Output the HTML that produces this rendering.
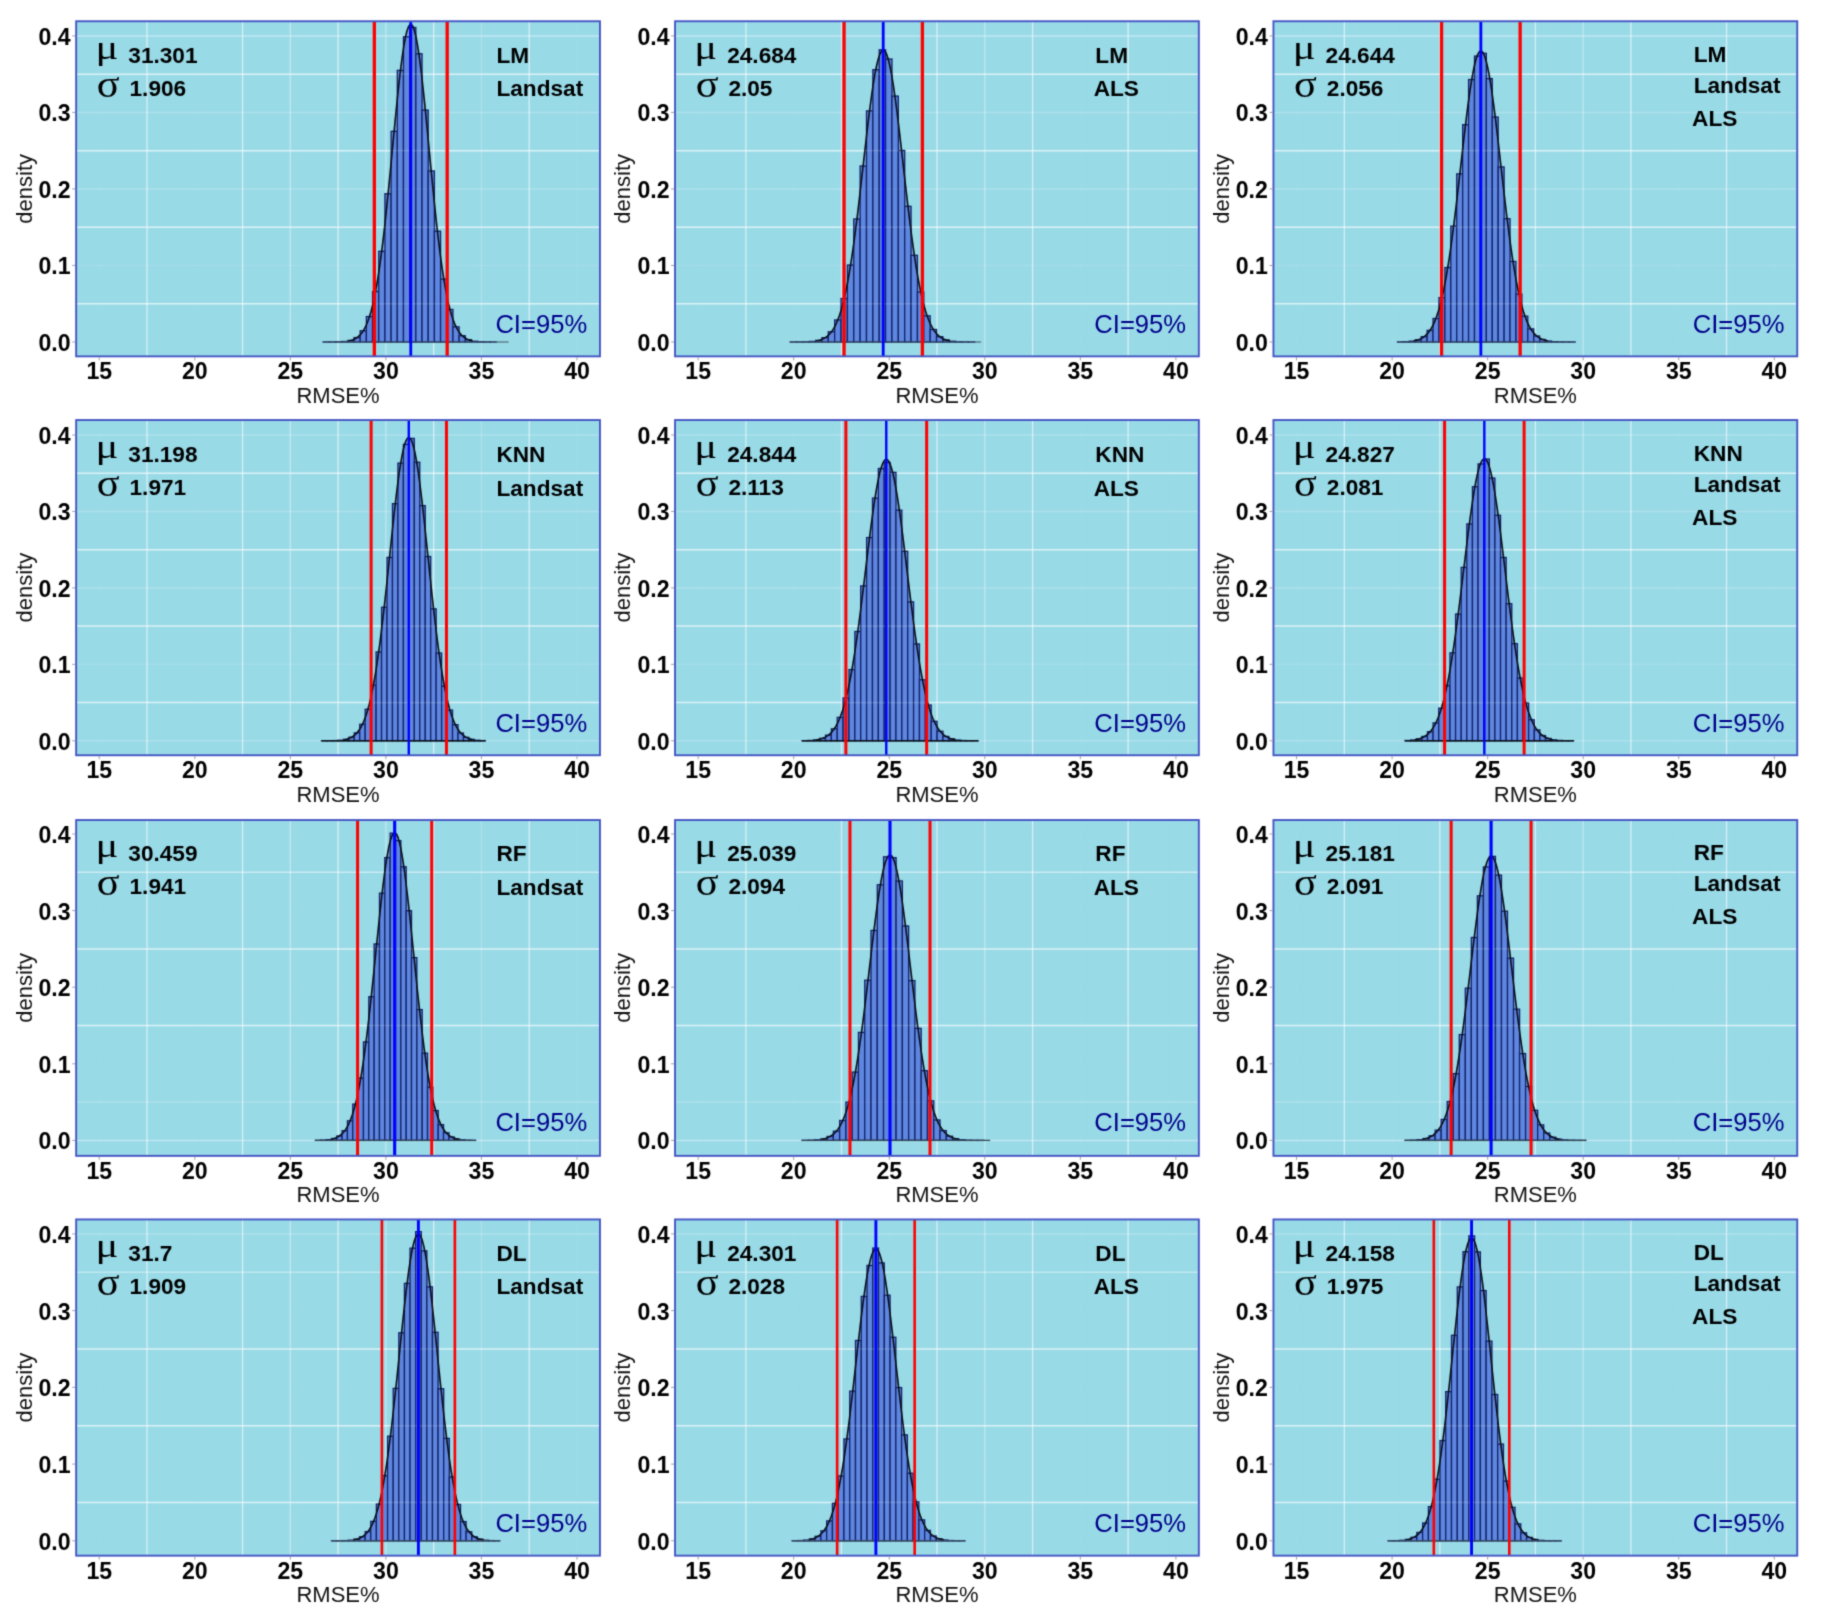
<!DOCTYPE html>
<html lang="en">
<head>
<meta charset="utf-8">
<title>RMSE% bootstrap distributions</title>
<style>
html,body{margin:0;padding:0;background:#fff;}
body{width:1822px;height:1615px;overflow:hidden;}
svg{display:block;}
</style>
</head>
<body>
<svg width="1822" height="1615" viewBox="0 0 1822 1615">
<defs><filter id="soft" filterUnits="userSpaceOnUse" x="0" y="0" width="1822" height="1615" color-interpolation-filters="sRGB"><feConvolveMatrix order="3" kernelMatrix="0.03 0.1 0.03 0.1 0.48 0.1 0.03 0.1 0.03" divisor="1" edgeMode="duplicate" preserveAlpha="true"/></filter></defs>
<g filter="url(#soft)">
<rect width="1822" height="1615" fill="#fff"/>
<g><rect x="76.15" y="21.25" width="523.8" height="335.1" fill="#99dae7"/><g stroke="#ffffff" stroke-width="1.3"><line x1="99.25" x2="99.25" y1="21.25" y2="356.35" stroke-opacity="0.03"/><line x1="147.03" x2="147.03" y1="21.25" y2="356.35" stroke-opacity="0.6"/><line x1="194.8" x2="194.8" y1="21.25" y2="356.35" stroke-opacity="0.03"/><line x1="242.57" x2="242.57" y1="21.25" y2="356.35" stroke-opacity="0.6"/><line x1="290.35" x2="290.35" y1="21.25" y2="356.35" stroke-opacity="0.38"/><line x1="338.12" x2="338.12" y1="21.25" y2="356.35" stroke-opacity="0.6"/><line x1="385.9" x2="385.9" y1="21.25" y2="356.35" stroke-opacity="0.38"/><line x1="433.68" x2="433.68" y1="21.25" y2="356.35" stroke-opacity="0.6"/><line x1="481.45" x2="481.45" y1="21.25" y2="356.35" stroke-opacity="0.2"/><line x1="529.22" x2="529.22" y1="21.25" y2="356.35" stroke-opacity="0.6"/><line x1="577" x2="577" y1="21.25" y2="356.35" stroke-opacity="0.03"/></g><g stroke="#ffffff" stroke-width="1.5"><line x1="76.15" x2="599.95" y1="342" y2="342" stroke-opacity="0.02"/><line x1="76.15" x2="599.95" y1="303.74" y2="303.74" stroke-opacity="0.64"/><line x1="76.15" x2="599.95" y1="265.48" y2="265.48" stroke-opacity="0.1"/><line x1="76.15" x2="599.95" y1="227.21" y2="227.21" stroke-opacity="0.64"/><line x1="76.15" x2="599.95" y1="188.95" y2="188.95" stroke-opacity="0.2"/><line x1="76.15" x2="599.95" y1="150.69" y2="150.69" stroke-opacity="0.64"/><line x1="76.15" x2="599.95" y1="112.42" y2="112.42" stroke-opacity="0.2"/><line x1="76.15" x2="599.95" y1="74.16" y2="74.16" stroke-opacity="0.64"/><line x1="76.15" x2="599.95" y1="35.9" y2="35.9" stroke-opacity="0.38"/></g><path id="dp00" d="M326.19,342 L326.19,341.99 327.69,341.99 329.18,341.98 330.67,341.98 332.17,341.97 333.66,341.95 335.16,341.93 336.65,341.91 338.15,341.87 339.64,341.82 341.13,341.76 342.63,341.67 344.12,341.56 345.62,341.41 347.11,341.22 348.61,340.97 350.1,340.64 351.59,340.23 353.09,339.71 354.58,339.05 356.08,338.23 357.57,337.21 359.07,335.96 360.56,334.43 362.06,332.57 363.55,330.34 365.04,327.68 366.54,324.52 368.03,320.8 369.53,316.47 371.02,311.45 372.52,305.69 374.01,299.13 375.5,291.71 377,283.4 378.49,274.17 379.99,264 381.48,252.89 382.98,240.88 384.47,228.01 385.96,214.35 387.46,199.99 388.95,185.06 390.45,169.71 391.94,154.1 393.44,138.44 394.93,122.92 396.42,107.77 397.92,93.23 399.41,79.53 400.91,66.9 402.4,55.57 403.9,45.75 405.39,37.6 406.88,31.3 408.38,26.96 409.87,24.67 411.37,24.47 412.86,26.36 414.36,30.32 415.85,36.26 417.34,44.06 418.84,53.58 420.33,64.64 421.83,77.04 423.32,90.55 424.82,104.95 426.31,120 427.8,135.46 429.3,151.12 430.79,166.76 432.29,182.17 433.78,197.19 435.28,211.67 436.77,225.47 438.26,238.5 439.76,250.68 441.25,261.96 442.75,272.3 444.24,281.71 445.74,290.2 447.23,297.78 448.72,304.5 450.22,310.42 451.71,315.57 453.21,320.03 454.7,323.86 456.2,327.12 457.69,329.87 459.18,332.18 460.68,334.1 462.17,335.69 463.67,336.99 465.16,338.05 466.66,338.91 468.15,339.59 469.65,340.14 471.14,340.57 472.63,340.91 474.13,341.18 475.62,341.38 477.12,341.54 478.61,341.66 480.11,341.75 481.6,341.81 483.09,341.86 484.59,341.9 486.08,341.93 487.58,341.95 489.07,341.96 490.57,341.97 492.06,341.98 493.55,341.99 495.05,341.99 496.54,341.99 498.04,342 499.53,342 501.03,342 502.52,342 504.01,342 505.51,342 L505.51,342 Z" fill="#5f87e0" fill-opacity="0.6" stroke="none"/><g fill="#5f87e0" stroke="#112268" stroke-width="1.3"><rect x="323.1" y="341.99" width="6.18" height="0.01"/><rect x="329.28" y="341.96" width="6.18" height="0.04"/><rect x="335.47" y="341.86" width="6.18" height="0.14"/><rect x="341.65" y="341.51" width="6.18" height="0.49"/><rect x="347.83" y="340.43" width="6.18" height="1.57"/><rect x="354.02" y="337.57" width="6.18" height="4.43"/><rect x="360.2" y="330.75" width="6.18" height="11.25"/><rect x="366.38" y="316.55" width="6.18" height="25.45"/><rect x="372.57" y="291.5" width="6.18" height="50.5"/><rect x="378.75" y="251.31" width="6.18" height="90.69"/><rect x="384.93" y="193.74" width="6.18" height="148.26"/><rect x="391.12" y="131.32" width="6.18" height="210.68"/><rect x="397.3" y="70.37" width="6.18" height="271.63"/><rect x="403.48" y="36.76" width="6.18" height="305.24"/><rect x="409.67" y="27.49" width="6.18" height="314.51"/><rect x="415.85" y="53.76" width="6.18" height="288.24"/><rect x="422.03" y="110.12" width="6.18" height="231.88"/><rect x="428.22" y="170.95" width="6.18" height="171.05"/><rect x="434.4" y="231.22" width="6.18" height="110.78"/><rect x="440.58" y="279.1" width="6.18" height="62.9"/><rect x="446.77" y="309.5" width="6.18" height="32.5"/><rect x="452.95" y="326.83" width="6.18" height="15.17"/><rect x="459.13" y="335.7" width="6.18" height="6.3"/><rect x="465.32" y="339.71" width="6.18" height="2.29"/><rect x="471.5" y="341.25" width="6.18" height="0.75"/><rect x="477.68" y="341.78" width="6.18" height="0.22"/><rect x="483.87" y="341.94" width="6.18" height="0.06"/><rect x="490.05" y="341.99" width="6.18" height="0.01"/><rect x="496.23" y="342" width="6.18" height="0"/><rect x="502.42" y="342" width="6.18" height="0"/></g><path d="M348.61,340.97 350.1,340.64 351.59,340.23 353.09,339.71 354.58,339.05 356.08,338.23 357.57,337.21 359.07,335.96 360.56,334.43 362.06,332.57 363.55,330.34 365.04,327.68 366.54,324.52 368.03,320.8 369.53,316.47 371.02,311.45 372.52,305.69 374.01,299.13 375.5,291.71 377,283.4 378.49,274.17 379.99,264 381.48,252.89 382.98,240.88 384.47,228.01 385.96,214.35 387.46,199.99 388.95,185.06 390.45,169.71 391.94,154.1 393.44,138.44 394.93,122.92 396.42,107.77 397.92,93.23 399.41,79.53 400.91,66.9 402.4,55.57 403.9,45.75 405.39,37.6 406.88,31.3 408.38,26.96 409.87,24.67 411.37,24.47 412.86,26.36 414.36,30.32 415.85,36.26 417.34,44.06 418.84,53.58 420.33,64.64 421.83,77.04 423.32,90.55 424.82,104.95 426.31,120 427.8,135.46 429.3,151.12 430.79,166.76 432.29,182.17 433.78,197.19 435.28,211.67 436.77,225.47 438.26,238.5 439.76,250.68 441.25,261.96 442.75,272.3 444.24,281.71 445.74,290.2 447.23,297.78 448.72,304.5 450.22,310.42 451.71,315.57 453.21,320.03 454.7,323.86 456.2,327.12 457.69,329.87 459.18,332.18 460.68,334.1 462.17,335.69 463.67,336.99 465.16,338.05 466.66,338.91 468.15,339.59 469.65,340.14 471.14,340.57 472.63,340.91" fill="none" stroke="#0a0f16" stroke-width="1.6" stroke-linejoin="round"/><g stroke="#fff" stroke-width="1.65" clip-path="url(#cp00)"><line x1="323.1" x2="508.6" y1="303.74" y2="303.74" stroke-opacity="0.14"/><line x1="323.1" x2="508.6" y1="227.21" y2="227.21" stroke-opacity="0.14"/><line x1="323.1" x2="508.6" y1="188.95" y2="188.95" stroke-opacity="0.04"/><line x1="323.1" x2="508.6" y1="150.69" y2="150.69" stroke-opacity="0.14"/><line x1="323.1" x2="508.6" y1="112.42" y2="112.42" stroke-opacity="0.04"/><line x1="323.1" x2="508.6" y1="74.16" y2="74.16" stroke-opacity="0.14"/><line x1="323.1" x2="508.6" y1="35.9" y2="35.9" stroke-opacity="0.08"/></g><clipPath id="cp00"><use href="#dp00"/></clipPath><line x1="323.1" x2="508.6" y1="342" y2="342" stroke="#3f5560" stroke-width="1.2"/><line x1="374.34" x2="374.34" y1="21.25" y2="356.35" stroke="#ff0000" stroke-width="3.3"/><line x1="447.19" x2="447.19" y1="21.25" y2="356.35" stroke="#ff0000" stroke-width="3.3"/><line x1="410.76" x2="410.76" y1="21.25" y2="356.35" stroke="#0000ff" stroke-width="2.8"/><rect x="76.15" y="21.25" width="523.8" height="335.1" fill="none" stroke="#4455c3" stroke-width="1.9"/><g stroke="#8f8f8f" stroke-width="0.85"><line x1="72.2" x2="75.2" y1="342" y2="342"/><line x1="72.2" x2="75.2" y1="265.48" y2="265.48"/><line x1="72.2" x2="75.2" y1="188.95" y2="188.95"/><line x1="72.2" x2="75.2" y1="112.42" y2="112.42"/><line x1="72.2" x2="75.2" y1="35.9" y2="35.9"/><line x1="99.25" x2="99.25" y1="357.3" y2="360.3"/><line x1="194.8" x2="194.8" y1="357.3" y2="360.3"/><line x1="290.35" x2="290.35" y1="357.3" y2="360.3"/><line x1="385.9" x2="385.9" y1="357.3" y2="360.3"/><line x1="481.45" x2="481.45" y1="357.3" y2="360.3"/><line x1="577" x2="577" y1="357.3" y2="360.3"/></g><g font-family="'Liberation Sans', Arial, Helvetica, sans-serif" font-weight="bold" font-size="23.1" fill="#000"><text x="70.6" y="350.9" text-anchor="end">0.0</text><text x="70.6" y="274.38" text-anchor="end">0.1</text><text x="70.6" y="197.85" text-anchor="end">0.2</text><text x="70.6" y="121.32" text-anchor="end">0.3</text><text x="70.6" y="44.8" text-anchor="end">0.4</text><text x="99.25" y="379.4" text-anchor="middle">15</text><text x="194.8" y="379.4" text-anchor="middle">20</text><text x="290.35" y="379.4" text-anchor="middle">25</text><text x="385.9" y="379.4" text-anchor="middle">30</text><text x="481.45" y="379.4" text-anchor="middle">35</text><text x="577" y="379.4" text-anchor="middle">40</text></g><text x="338.05" y="402.8" text-anchor="middle" font-family="'Liberation Sans', Arial, Helvetica, sans-serif" font-size="22" fill="#111">RMSE%</text><text transform="translate(32.3 188.8) rotate(-90)" text-anchor="middle" font-family="'Liberation Sans', Arial, Helvetica, sans-serif" font-size="22" fill="#111">density</text><text transform="translate(95.4 59.2) scale(1.27 1)" font-family="'Liberation Serif', 'DejaVu Serif', serif" font-size="33.5" fill="#000">μ</text><text transform="translate(96.8 97.3) scale(1.1 1)" font-family="'Liberation Serif', 'DejaVu Serif', serif" font-size="38.5" fill="#000">σ</text><g font-family="'Liberation Sans', Arial, Helvetica, sans-serif" font-weight="bold" font-size="22.65" fill="#000"><text x="128.3" y="62.7">31.301</text><text x="129.5" y="96.3">1.906</text><text x="496.4" y="62.5">LM</text><text x="496.4" y="96.4">Landsat</text></g><text x="495.4" y="332.9" font-family="'Liberation Sans', Arial, Helvetica, sans-serif" font-size="25.6" fill="#00008b">CI=95%</text></g>
<g><rect x="675.05" y="21.25" width="523.8" height="335.1" fill="#99dae7"/><g stroke="#ffffff" stroke-width="1.3"><line x1="698.15" x2="698.15" y1="21.25" y2="356.35" stroke-opacity="0.03"/><line x1="745.92" x2="745.92" y1="21.25" y2="356.35" stroke-opacity="0.6"/><line x1="793.7" x2="793.7" y1="21.25" y2="356.35" stroke-opacity="0.03"/><line x1="841.47" x2="841.47" y1="21.25" y2="356.35" stroke-opacity="0.6"/><line x1="889.25" x2="889.25" y1="21.25" y2="356.35" stroke-opacity="0.03"/><line x1="937.02" x2="937.02" y1="21.25" y2="356.35" stroke-opacity="0.6"/><line x1="984.8" x2="984.8" y1="21.25" y2="356.35" stroke-opacity="0.38"/><line x1="1032.58" x2="1032.58" y1="21.25" y2="356.35" stroke-opacity="0.6"/><line x1="1080.35" x2="1080.35" y1="21.25" y2="356.35" stroke-opacity="0.03"/><line x1="1128.12" x2="1128.12" y1="21.25" y2="356.35" stroke-opacity="0.6"/><line x1="1175.9" x2="1175.9" y1="21.25" y2="356.35" stroke-opacity="0.03"/></g><g stroke="#ffffff" stroke-width="1.5"><line x1="675.05" x2="1198.85" y1="342" y2="342" stroke-opacity="0.02"/><line x1="675.05" x2="1198.85" y1="303.74" y2="303.74" stroke-opacity="0.64"/><line x1="675.05" x2="1198.85" y1="265.48" y2="265.48" stroke-opacity="0.1"/><line x1="675.05" x2="1198.85" y1="227.21" y2="227.21" stroke-opacity="0.64"/><line x1="675.05" x2="1198.85" y1="188.95" y2="188.95" stroke-opacity="0.2"/><line x1="675.05" x2="1198.85" y1="150.69" y2="150.69" stroke-opacity="0.64"/><line x1="675.05" x2="1198.85" y1="112.42" y2="112.42" stroke-opacity="0.2"/><line x1="675.05" x2="1198.85" y1="74.16" y2="74.16" stroke-opacity="0.64"/><line x1="675.05" x2="1198.85" y1="35.9" y2="35.9" stroke-opacity="0.38"/></g><path id="dp01" d="M793.28,342 L793.28,341.99 794.82,341.98 796.36,341.98 797.9,341.97 799.44,341.96 800.98,341.94 802.51,341.92 804.05,341.89 805.59,341.84 807.13,341.79 808.67,341.72 810.21,341.63 811.75,341.51 813.29,341.36 814.82,341.16 816.36,340.91 817.9,340.6 819.44,340.2 820.98,339.71 822.52,339.1 824.06,338.34 825.59,337.42 827.13,336.3 828.67,334.95 830.21,333.32 831.75,331.39 833.29,329.1 834.83,326.42 836.36,323.28 837.9,319.64 839.44,315.46 840.98,310.68 842.52,305.26 844.06,299.15 845.6,292.32 847.13,284.75 848.67,276.41 850.21,267.3 851.75,257.43 853.29,246.82 854.83,235.51 856.37,223.56 857.9,211.04 859.44,198.07 860.98,184.73 862.52,171.18 864.06,157.56 865.6,144.03 867.14,130.76 868.68,117.94 870.21,105.74 871.75,94.35 873.29,83.94 874.83,74.68 876.37,66.73 877.91,60.21 879.45,55.25 880.98,51.92 882.52,50.29 884.06,50.38 885.6,52.19 887.14,55.69 888.68,60.83 890.22,67.5 891.75,75.59 893.29,84.98 894.83,95.5 896.37,106.99 897.91,119.26 899.45,132.14 900.99,145.45 902.52,158.99 904.06,172.61 905.6,186.15 907.14,199.45 908.68,212.38 910.22,224.84 911.76,236.73 913.29,247.97 914.83,258.5 916.37,268.29 917.91,277.32 919.45,285.58 920.99,293.08 922.53,299.83 924.07,305.86 925.6,311.21 927.14,315.93 928.68,320.05 930.22,323.63 931.76,326.72 933.3,329.36 934.84,331.61 936.37,333.51 937.91,335.1 939.45,336.43 940.99,337.53 942.53,338.43 944.07,339.17 945.61,339.77 947.14,340.25 948.68,340.63 950.22,340.94 951.76,341.19 953.3,341.38 954.84,341.53 956.38,341.64 957.91,341.73 959.45,341.8 960.99,341.85 962.53,341.89 964.07,341.92 965.61,341.94 967.15,341.96 968.69,341.97 970.22,341.98 971.76,341.98 973.3,341.99 974.84,341.99 976.38,341.99 977.92,342 L977.92,342 Z" fill="#5f87e0" fill-opacity="0.6" stroke="none"/><g fill="#5f87e0" stroke="#112268" stroke-width="1.3"><rect x="790.1" y="341.99" width="6.37" height="0.01"/><rect x="796.47" y="341.95" width="6.37" height="0.05"/><rect x="802.83" y="341.83" width="6.37" height="0.17"/><rect x="809.2" y="341.46" width="6.37" height="0.54"/><rect x="815.57" y="340.38" width="6.37" height="1.62"/><rect x="821.93" y="337.72" width="6.37" height="4.28"/><rect x="828.3" y="331.74" width="6.37" height="10.26"/><rect x="834.67" y="319.94" width="6.37" height="22.06"/><rect x="841.03" y="298.51" width="6.37" height="43.49"/><rect x="847.4" y="265.04" width="6.37" height="76.96"/><rect x="853.77" y="219.02" width="6.37" height="122.98"/><rect x="860.13" y="166.01" width="6.37" height="175.99"/><rect x="866.5" y="110.91" width="6.37" height="231.09"/><rect x="872.87" y="69.72" width="6.37" height="272.28"/><rect x="879.23" y="49.79" width="6.37" height="292.21"/><rect x="885.6" y="59.02" width="6.37" height="282.98"/><rect x="891.97" y="96.12" width="6.37" height="245.88"/><rect x="898.33" y="150.49" width="6.37" height="191.51"/><rect x="904.7" y="206.32" width="6.37" height="135.68"/><rect x="911.07" y="255.3" width="6.37" height="86.7"/><rect x="917.43" y="292" width="6.37" height="50"/><rect x="923.8" y="315.82" width="6.37" height="26.18"/><rect x="930.17" y="329.49" width="6.37" height="12.51"/><rect x="936.53" y="336.67" width="6.37" height="5.33"/><rect x="942.9" y="339.94" width="6.37" height="2.06"/><rect x="949.27" y="341.27" width="6.37" height="0.73"/><rect x="955.63" y="341.77" width="6.37" height="0.23"/><rect x="962" y="341.94" width="6.37" height="0.06"/><rect x="968.37" y="341.98" width="6.37" height="0.02"/><rect x="974.73" y="342" width="6.37" height="0"/></g><path d="M816.36,340.91 817.9,340.6 819.44,340.2 820.98,339.71 822.52,339.1 824.06,338.34 825.59,337.42 827.13,336.3 828.67,334.95 830.21,333.32 831.75,331.39 833.29,329.1 834.83,326.42 836.36,323.28 837.9,319.64 839.44,315.46 840.98,310.68 842.52,305.26 844.06,299.15 845.6,292.32 847.13,284.75 848.67,276.41 850.21,267.3 851.75,257.43 853.29,246.82 854.83,235.51 856.37,223.56 857.9,211.04 859.44,198.07 860.98,184.73 862.52,171.18 864.06,157.56 865.6,144.03 867.14,130.76 868.68,117.94 870.21,105.74 871.75,94.35 873.29,83.94 874.83,74.68 876.37,66.73 877.91,60.21 879.45,55.25 880.98,51.92 882.52,50.29 884.06,50.38 885.6,52.19 887.14,55.69 888.68,60.83 890.22,67.5 891.75,75.59 893.29,84.98 894.83,95.5 896.37,106.99 897.91,119.26 899.45,132.14 900.99,145.45 902.52,158.99 904.06,172.61 905.6,186.15 907.14,199.45 908.68,212.38 910.22,224.84 911.76,236.73 913.29,247.97 914.83,258.5 916.37,268.29 917.91,277.32 919.45,285.58 920.99,293.08 922.53,299.83 924.07,305.86 925.6,311.21 927.14,315.93 928.68,320.05 930.22,323.63 931.76,326.72 933.3,329.36 934.84,331.61 936.37,333.51 937.91,335.1 939.45,336.43 940.99,337.53 942.53,338.43 944.07,339.17 945.61,339.77 947.14,340.25 948.68,340.63 950.22,340.94" fill="none" stroke="#0a0f16" stroke-width="1.6" stroke-linejoin="round"/><g stroke="#fff" stroke-width="1.65" clip-path="url(#cp01)"><line x1="790.1" x2="981.1" y1="303.74" y2="303.74" stroke-opacity="0.14"/><line x1="790.1" x2="981.1" y1="227.21" y2="227.21" stroke-opacity="0.14"/><line x1="790.1" x2="981.1" y1="188.95" y2="188.95" stroke-opacity="0.04"/><line x1="790.1" x2="981.1" y1="150.69" y2="150.69" stroke-opacity="0.14"/><line x1="790.1" x2="981.1" y1="112.42" y2="112.42" stroke-opacity="0.04"/><line x1="790.1" x2="981.1" y1="74.16" y2="74.16" stroke-opacity="0.14"/><line x1="790.1" x2="981.1" y1="35.9" y2="35.9" stroke-opacity="0.08"/></g><clipPath id="cp01"><use href="#dp01"/></clipPath><line x1="790.1" x2="981.1" y1="342" y2="342" stroke="#3f5560" stroke-width="1.2"/><line x1="844.04" x2="844.04" y1="21.25" y2="356.35" stroke="#ff0000" stroke-width="3.3"/><line x1="922.39" x2="922.39" y1="21.25" y2="356.35" stroke="#ff0000" stroke-width="3.3"/><line x1="883.21" x2="883.21" y1="21.25" y2="356.35" stroke="#0000ff" stroke-width="2.8"/><rect x="675.05" y="21.25" width="523.8" height="335.1" fill="none" stroke="#4455c3" stroke-width="1.9"/><g stroke="#8f8f8f" stroke-width="0.85"><line x1="671.1" x2="674.1" y1="342" y2="342"/><line x1="671.1" x2="674.1" y1="265.48" y2="265.48"/><line x1="671.1" x2="674.1" y1="188.95" y2="188.95"/><line x1="671.1" x2="674.1" y1="112.42" y2="112.42"/><line x1="671.1" x2="674.1" y1="35.9" y2="35.9"/><line x1="698.15" x2="698.15" y1="357.3" y2="360.3"/><line x1="793.7" x2="793.7" y1="357.3" y2="360.3"/><line x1="889.25" x2="889.25" y1="357.3" y2="360.3"/><line x1="984.8" x2="984.8" y1="357.3" y2="360.3"/><line x1="1080.35" x2="1080.35" y1="357.3" y2="360.3"/><line x1="1175.9" x2="1175.9" y1="357.3" y2="360.3"/></g><g font-family="'Liberation Sans', Arial, Helvetica, sans-serif" font-weight="bold" font-size="23.1" fill="#000"><text x="669.5" y="350.9" text-anchor="end">0.0</text><text x="669.5" y="274.38" text-anchor="end">0.1</text><text x="669.5" y="197.85" text-anchor="end">0.2</text><text x="669.5" y="121.32" text-anchor="end">0.3</text><text x="669.5" y="44.8" text-anchor="end">0.4</text><text x="698.15" y="379.4" text-anchor="middle">15</text><text x="793.7" y="379.4" text-anchor="middle">20</text><text x="889.25" y="379.4" text-anchor="middle">25</text><text x="984.8" y="379.4" text-anchor="middle">30</text><text x="1080.35" y="379.4" text-anchor="middle">35</text><text x="1175.9" y="379.4" text-anchor="middle">40</text></g><text x="936.95" y="402.8" text-anchor="middle" font-family="'Liberation Sans', Arial, Helvetica, sans-serif" font-size="22" fill="#111">RMSE%</text><text transform="translate(630.2 188.8) rotate(-90)" text-anchor="middle" font-family="'Liberation Sans', Arial, Helvetica, sans-serif" font-size="22" fill="#111">density</text><text transform="translate(694.3 59.2) scale(1.27 1)" font-family="'Liberation Serif', 'DejaVu Serif', serif" font-size="33.5" fill="#000">μ</text><text transform="translate(695.7 97.3) scale(1.1 1)" font-family="'Liberation Serif', 'DejaVu Serif', serif" font-size="38.5" fill="#000">σ</text><g font-family="'Liberation Sans', Arial, Helvetica, sans-serif" font-weight="bold" font-size="22.65" fill="#000"><text x="727.2" y="62.7">24.684</text><text x="728.4" y="96.3">2.05</text><text x="1095.3" y="62.5">LM</text><text x="1093.7" y="96.4">ALS</text></g><text x="1094.3" y="332.9" font-family="'Liberation Sans', Arial, Helvetica, sans-serif" font-size="25.6" fill="#00008b">CI=95%</text></g>
<g><rect x="1273.45" y="21.25" width="523.8" height="335.1" fill="#99dae7"/><g stroke="#ffffff" stroke-width="1.3"><line x1="1296.55" x2="1296.55" y1="21.25" y2="356.35" stroke-opacity="0.03"/><line x1="1344.33" x2="1344.33" y1="21.25" y2="356.35" stroke-opacity="0.6"/><line x1="1392.1" x2="1392.1" y1="21.25" y2="356.35" stroke-opacity="0.03"/><line x1="1439.88" x2="1439.88" y1="21.25" y2="356.35" stroke-opacity="0.6"/><line x1="1487.65" x2="1487.65" y1="21.25" y2="356.35" stroke-opacity="0.03"/><line x1="1535.42" x2="1535.42" y1="21.25" y2="356.35" stroke-opacity="0.6"/><line x1="1583.2" x2="1583.2" y1="21.25" y2="356.35" stroke-opacity="0.38"/><line x1="1630.97" x2="1630.97" y1="21.25" y2="356.35" stroke-opacity="0.6"/><line x1="1678.75" x2="1678.75" y1="21.25" y2="356.35" stroke-opacity="0.03"/><line x1="1726.52" x2="1726.52" y1="21.25" y2="356.35" stroke-opacity="0.6"/><line x1="1774.3" x2="1774.3" y1="21.25" y2="356.35" stroke-opacity="0.03"/></g><g stroke="#ffffff" stroke-width="1.5"><line x1="1273.45" x2="1797.25" y1="342" y2="342" stroke-opacity="0.02"/><line x1="1273.45" x2="1797.25" y1="303.74" y2="303.74" stroke-opacity="0.64"/><line x1="1273.45" x2="1797.25" y1="265.48" y2="265.48" stroke-opacity="0.1"/><line x1="1273.45" x2="1797.25" y1="227.21" y2="227.21" stroke-opacity="0.64"/><line x1="1273.45" x2="1797.25" y1="188.95" y2="188.95" stroke-opacity="0.2"/><line x1="1273.45" x2="1797.25" y1="150.69" y2="150.69" stroke-opacity="0.64"/><line x1="1273.45" x2="1797.25" y1="112.42" y2="112.42" stroke-opacity="0.2"/><line x1="1273.45" x2="1797.25" y1="74.16" y2="74.16" stroke-opacity="0.64"/><line x1="1273.45" x2="1797.25" y1="35.9" y2="35.9" stroke-opacity="0.38"/></g><path id="dp02" d="M1400.46,342 L1400.46,341.91 1401.89,341.88 1403.32,341.84 1404.76,341.78 1406.19,341.72 1407.62,341.63 1409.05,341.52 1410.48,341.39 1411.91,341.21 1413.34,341 1414.78,340.73 1416.21,340.39 1417.64,339.98 1419.07,339.48 1420.5,338.87 1421.93,338.12 1423.37,337.23 1424.8,336.16 1426.23,334.89 1427.66,333.38 1429.09,331.61 1430.52,329.54 1431.95,327.13 1433.39,324.35 1434.82,321.15 1436.25,317.5 1437.68,313.36 1439.11,308.68 1440.54,303.44 1441.97,297.6 1443.41,291.13 1444.84,284.02 1446.27,276.26 1447.7,267.83 1449.13,258.75 1450.56,249.03 1451.99,238.7 1453.43,227.81 1454.86,216.41 1456.29,204.58 1457.72,192.4 1459.15,179.97 1460.58,167.39 1462.01,154.8 1463.45,142.32 1464.88,130.09 1466.31,118.26 1467.74,106.97 1469.17,96.36 1470.6,86.58 1472.04,77.77 1473.47,70.03 1474.9,63.5 1476.33,58.26 1477.76,54.39 1479.19,51.95 1480.62,50.98 1482.06,51.49 1483.49,53.48 1484.92,56.91 1486.35,61.73 1487.78,67.87 1489.21,75.24 1490.64,83.73 1492.08,93.22 1493.51,103.59 1494.94,114.68 1496.37,126.36 1497.8,138.48 1499.23,150.9 1500.66,163.47 1502.1,176.06 1503.53,188.55 1504.96,200.82 1506.39,212.77 1507.82,224.31 1509.25,235.37 1510.69,245.87 1512.12,255.79 1513.55,265.07 1514.98,273.71 1516.41,281.68 1517.84,288.99 1519.27,295.66 1520.71,301.69 1522.14,307.11 1523.57,311.96 1525,316.27 1526.43,320.07 1527.86,323.4 1529.29,326.31 1530.73,328.83 1532.16,331 1533.59,332.86 1535.02,334.45 1536.45,335.79 1537.88,336.92 1539.31,337.86 1540.75,338.65 1542.18,339.3 1543.61,339.84 1545.04,340.27 1546.47,340.63 1547.9,340.92 1549.33,341.15 1550.77,341.34 1552.2,341.48 1553.63,341.6 1555.06,341.69 1556.49,341.76 1557.92,341.82 1559.36,341.86 1560.79,341.9 1562.22,341.92 1563.65,341.94 1565.08,341.96 1566.51,341.97 1567.94,341.98 1569.38,341.98 1570.81,341.99 1572.24,341.99 L1572.24,342 Z" fill="#5f87e0" fill-opacity="0.6" stroke="none"/><g fill="#5f87e0" stroke="#112268" stroke-width="1.3"><rect x="1397.5" y="341.91" width="5.92" height="0.09"/><rect x="1403.42" y="341.71" width="5.92" height="0.29"/><rect x="1409.35" y="341.16" width="5.92" height="0.84"/><rect x="1415.27" y="339.79" width="5.92" height="2.21"/><rect x="1421.19" y="336.67" width="5.92" height="5.33"/><rect x="1427.12" y="330.37" width="5.92" height="11.63"/><rect x="1433.04" y="318.49" width="5.92" height="23.51"/><rect x="1438.96" y="297.61" width="5.92" height="44.39"/><rect x="1444.89" y="267.54" width="5.92" height="74.46"/><rect x="1450.81" y="226.13" width="5.92" height="115.87"/><rect x="1456.73" y="173.89" width="5.92" height="168.11"/><rect x="1462.66" y="124.71" width="5.92" height="217.29"/><rect x="1468.58" y="79.54" width="5.92" height="262.46"/><rect x="1474.5" y="56.09" width="5.92" height="285.91"/><rect x="1480.43" y="53.28" width="5.92" height="288.72"/><rect x="1486.35" y="78.63" width="5.92" height="263.37"/><rect x="1492.27" y="117.06" width="5.92" height="224.94"/><rect x="1498.2" y="166.93" width="5.92" height="175.07"/><rect x="1504.12" y="218.71" width="5.92" height="123.29"/><rect x="1510.04" y="261.44" width="5.92" height="80.56"/><rect x="1515.97" y="294.07" width="5.92" height="47.93"/><rect x="1521.89" y="316.18" width="5.92" height="25.82"/><rect x="1527.81" y="328.88" width="5.92" height="13.12"/><rect x="1533.74" y="336" width="5.92" height="6"/><rect x="1539.66" y="339.5" width="5.92" height="2.5"/><rect x="1545.58" y="341.04" width="5.92" height="0.96"/><rect x="1551.51" y="341.66" width="5.92" height="0.34"/><rect x="1557.43" y="341.89" width="5.92" height="0.11"/><rect x="1563.35" y="341.97" width="5.92" height="0.03"/><rect x="1569.28" y="341.99" width="5.92" height="0.01"/></g><path d="M1413.34,341 1414.78,340.73 1416.21,340.39 1417.64,339.98 1419.07,339.48 1420.5,338.87 1421.93,338.12 1423.37,337.23 1424.8,336.16 1426.23,334.89 1427.66,333.38 1429.09,331.61 1430.52,329.54 1431.95,327.13 1433.39,324.35 1434.82,321.15 1436.25,317.5 1437.68,313.36 1439.11,308.68 1440.54,303.44 1441.97,297.6 1443.41,291.13 1444.84,284.02 1446.27,276.26 1447.7,267.83 1449.13,258.75 1450.56,249.03 1451.99,238.7 1453.43,227.81 1454.86,216.41 1456.29,204.58 1457.72,192.4 1459.15,179.97 1460.58,167.39 1462.01,154.8 1463.45,142.32 1464.88,130.09 1466.31,118.26 1467.74,106.97 1469.17,96.36 1470.6,86.58 1472.04,77.77 1473.47,70.03 1474.9,63.5 1476.33,58.26 1477.76,54.39 1479.19,51.95 1480.62,50.98 1482.06,51.49 1483.49,53.48 1484.92,56.91 1486.35,61.73 1487.78,67.87 1489.21,75.24 1490.64,83.73 1492.08,93.22 1493.51,103.59 1494.94,114.68 1496.37,126.36 1497.8,138.48 1499.23,150.9 1500.66,163.47 1502.1,176.06 1503.53,188.55 1504.96,200.82 1506.39,212.77 1507.82,224.31 1509.25,235.37 1510.69,245.87 1512.12,255.79 1513.55,265.07 1514.98,273.71 1516.41,281.68 1517.84,288.99 1519.27,295.66 1520.71,301.69 1522.14,307.11 1523.57,311.96 1525,316.27 1526.43,320.07 1527.86,323.4 1529.29,326.31 1530.73,328.83 1532.16,331 1533.59,332.86 1535.02,334.45 1536.45,335.79 1537.88,336.92 1539.31,337.86 1540.75,338.65 1542.18,339.3 1543.61,339.84 1545.04,340.27 1546.47,340.63 1547.9,340.92" fill="none" stroke="#0a0f16" stroke-width="1.6" stroke-linejoin="round"/><g stroke="#fff" stroke-width="1.65" clip-path="url(#cp02)"><line x1="1397.5" x2="1575.2" y1="303.74" y2="303.74" stroke-opacity="0.14"/><line x1="1397.5" x2="1575.2" y1="227.21" y2="227.21" stroke-opacity="0.14"/><line x1="1397.5" x2="1575.2" y1="188.95" y2="188.95" stroke-opacity="0.04"/><line x1="1397.5" x2="1575.2" y1="150.69" y2="150.69" stroke-opacity="0.14"/><line x1="1397.5" x2="1575.2" y1="112.42" y2="112.42" stroke-opacity="0.04"/><line x1="1397.5" x2="1575.2" y1="74.16" y2="74.16" stroke-opacity="0.14"/><line x1="1397.5" x2="1575.2" y1="35.9" y2="35.9" stroke-opacity="0.08"/></g><clipPath id="cp02"><use href="#dp02"/></clipPath><line x1="1397.5" x2="1575.2" y1="342" y2="342" stroke="#3f5560" stroke-width="1.2"/><line x1="1441.56" x2="1441.56" y1="21.25" y2="356.35" stroke="#ff0000" stroke-width="3.3"/><line x1="1520.14" x2="1520.14" y1="21.25" y2="356.35" stroke="#ff0000" stroke-width="3.3"/><line x1="1480.85" x2="1480.85" y1="21.25" y2="356.35" stroke="#0000ff" stroke-width="2.8"/><rect x="1273.45" y="21.25" width="523.8" height="335.1" fill="none" stroke="#4455c3" stroke-width="1.9"/><g stroke="#8f8f8f" stroke-width="0.85"><line x1="1269.5" x2="1272.5" y1="342" y2="342"/><line x1="1269.5" x2="1272.5" y1="265.48" y2="265.48"/><line x1="1269.5" x2="1272.5" y1="188.95" y2="188.95"/><line x1="1269.5" x2="1272.5" y1="112.42" y2="112.42"/><line x1="1269.5" x2="1272.5" y1="35.9" y2="35.9"/><line x1="1296.55" x2="1296.55" y1="357.3" y2="360.3"/><line x1="1392.1" x2="1392.1" y1="357.3" y2="360.3"/><line x1="1487.65" x2="1487.65" y1="357.3" y2="360.3"/><line x1="1583.2" x2="1583.2" y1="357.3" y2="360.3"/><line x1="1678.75" x2="1678.75" y1="357.3" y2="360.3"/><line x1="1774.3" x2="1774.3" y1="357.3" y2="360.3"/></g><g font-family="'Liberation Sans', Arial, Helvetica, sans-serif" font-weight="bold" font-size="23.1" fill="#000"><text x="1267.9" y="350.9" text-anchor="end">0.0</text><text x="1267.9" y="274.38" text-anchor="end">0.1</text><text x="1267.9" y="197.85" text-anchor="end">0.2</text><text x="1267.9" y="121.32" text-anchor="end">0.3</text><text x="1267.9" y="44.8" text-anchor="end">0.4</text><text x="1296.55" y="379.4" text-anchor="middle">15</text><text x="1392.1" y="379.4" text-anchor="middle">20</text><text x="1487.65" y="379.4" text-anchor="middle">25</text><text x="1583.2" y="379.4" text-anchor="middle">30</text><text x="1678.75" y="379.4" text-anchor="middle">35</text><text x="1774.3" y="379.4" text-anchor="middle">40</text></g><text x="1535.35" y="402.8" text-anchor="middle" font-family="'Liberation Sans', Arial, Helvetica, sans-serif" font-size="22" fill="#111">RMSE%</text><text transform="translate(1228.8 188.8) rotate(-90)" text-anchor="middle" font-family="'Liberation Sans', Arial, Helvetica, sans-serif" font-size="22" fill="#111">density</text><text transform="translate(1292.7 59.2) scale(1.27 1)" font-family="'Liberation Serif', 'DejaVu Serif', serif" font-size="33.5" fill="#000">μ</text><text transform="translate(1294.1 97.3) scale(1.1 1)" font-family="'Liberation Serif', 'DejaVu Serif', serif" font-size="38.5" fill="#000">σ</text><g font-family="'Liberation Sans', Arial, Helvetica, sans-serif" font-weight="bold" font-size="22.65" fill="#000"><text x="1325.6" y="62.7">24.644</text><text x="1326.8" y="96.3">2.056</text><text x="1693.7" y="62.3">LM</text><text x="1693.7" y="93.1">Landsat</text><text x="1692.1" y="125.8">ALS</text></g><text x="1692.7" y="332.9" font-family="'Liberation Sans', Arial, Helvetica, sans-serif" font-size="25.6" fill="#00008b">CI=95%</text></g>
<g><rect x="76.15" y="420.05" width="523.8" height="335.2" fill="#99dae7"/><g stroke="#ffffff" stroke-width="1.3"><line x1="99.25" x2="99.25" y1="420.05" y2="755.25" stroke-opacity="0.03"/><line x1="147.03" x2="147.03" y1="420.05" y2="755.25" stroke-opacity="0.6"/><line x1="194.8" x2="194.8" y1="420.05" y2="755.25" stroke-opacity="0.03"/><line x1="242.57" x2="242.57" y1="420.05" y2="755.25" stroke-opacity="0.6"/><line x1="290.35" x2="290.35" y1="420.05" y2="755.25" stroke-opacity="0.38"/><line x1="338.12" x2="338.12" y1="420.05" y2="755.25" stroke-opacity="0.6"/><line x1="385.9" x2="385.9" y1="420.05" y2="755.25" stroke-opacity="0.38"/><line x1="433.68" x2="433.68" y1="420.05" y2="755.25" stroke-opacity="0.6"/><line x1="481.45" x2="481.45" y1="420.05" y2="755.25" stroke-opacity="0.2"/><line x1="529.22" x2="529.22" y1="420.05" y2="755.25" stroke-opacity="0.6"/><line x1="577" x2="577" y1="420.05" y2="755.25" stroke-opacity="0.03"/></g><g stroke="#ffffff" stroke-width="1.5"><line x1="76.15" x2="599.95" y1="740.8" y2="740.8" stroke-opacity="0.2"/><line x1="76.15" x2="599.95" y1="702.58" y2="702.58" stroke-opacity="0.64"/><line x1="76.15" x2="599.95" y1="664.35" y2="664.35" stroke-opacity="0.1"/><line x1="76.15" x2="599.95" y1="626.12" y2="626.12" stroke-opacity="0.64"/><line x1="76.15" x2="599.95" y1="587.9" y2="587.9" stroke-opacity="0.2"/><line x1="76.15" x2="599.95" y1="549.67" y2="549.67" stroke-opacity="0.64"/><line x1="76.15" x2="599.95" y1="511.45" y2="511.45" stroke-opacity="0.2"/><line x1="76.15" x2="599.95" y1="473.22" y2="473.22" stroke-opacity="0.64"/><line x1="76.15" x2="599.95" y1="435" y2="435" stroke-opacity="0.2"/></g><path id="dp10" d="M324.23,740.8 L324.23,740.78 325.55,740.77 326.87,740.77 328.19,740.75 329.51,740.74 330.83,740.72 332.15,740.69 333.47,740.66 334.79,740.62 336.11,740.56 337.42,740.49 338.74,740.4 340.06,740.29 341.38,740.15 342.7,739.98 344.02,739.76 345.34,739.5 346.66,739.17 347.98,738.77 349.3,738.28 350.62,737.7 351.94,736.99 353.26,736.14 354.58,735.13 355.9,733.93 357.22,732.53 358.54,730.87 359.86,728.95 361.18,726.72 362.5,724.15 363.81,721.2 365.13,717.84 366.45,714.02 367.77,709.72 369.09,704.9 370.41,699.53 371.73,693.57 373.05,687.01 374.37,679.83 375.69,672.01 377.01,663.56 378.33,654.47 379.65,644.77 380.97,634.48 382.29,623.65 383.61,612.31 384.93,600.54 386.25,588.42 387.57,576.02 388.89,563.46 390.2,550.83 391.52,538.26 392.84,525.88 394.16,513.81 395.48,502.2 396.8,491.16 398.12,480.85 399.44,471.38 400.76,462.88 402.08,455.46 403.4,449.22 404.72,444.25 406.04,440.61 407.36,438.36 408.68,437.52 410,438.11 411.32,440.11 412.64,443.51 413.96,448.26 415.28,454.28 416.59,461.5 417.91,469.82 419.23,479.12 420.55,489.3 421.87,500.21 423.19,511.74 424.51,523.74 425.83,536.07 427.15,548.62 428.47,561.24 429.79,573.83 431.11,586.26 432.43,598.44 433.75,610.28 435.07,621.69 436.39,632.62 437.71,643.01 439.03,652.81 440.35,662.01 441.67,670.57 442.99,678.5 444.3,685.8 445.62,692.46 446.94,698.52 448.26,704 449.58,708.91 450.9,713.3 452.22,717.2 453.54,720.64 454.86,723.66 456.18,726.29 457.5,728.58 458.82,730.56 460.14,732.25 461.46,733.7 462.78,734.93 464.1,735.97 465.42,736.85 466.74,737.58 468.06,738.19 469.38,738.69 470.69,739.11 472.01,739.45 473.33,739.72 474.65,739.95 475.97,740.13 477.29,740.27 478.61,740.39 479.93,740.48 481.25,740.55 482.57,740.61 L482.57,740.8 Z" fill="#5f87e0" fill-opacity="0.6" stroke="none"/><g fill="#5f87e0" stroke="#112268" stroke-width="1.3"><rect x="321.5" y="740.78" width="5.46" height="0.02"/><rect x="326.96" y="740.74" width="5.46" height="0.06"/><rect x="332.42" y="740.6" width="5.46" height="0.2"/><rect x="337.88" y="740.24" width="5.46" height="0.56"/><rect x="343.34" y="739.33" width="5.46" height="1.47"/><rect x="348.8" y="737.22" width="5.46" height="3.58"/><rect x="354.26" y="732.86" width="5.46" height="7.94"/><rect x="359.72" y="724.29" width="5.46" height="16.51"/><rect x="365.18" y="709.25" width="5.46" height="31.55"/><rect x="370.64" y="685.14" width="5.46" height="55.66"/><rect x="376.1" y="651.94" width="5.46" height="88.86"/><rect x="381.56" y="607.26" width="5.46" height="133.54"/><rect x="387.02" y="557.41" width="5.46" height="183.39"/><rect x="392.48" y="503.66" width="5.46" height="237.14"/><rect x="397.94" y="463.09" width="5.46" height="277.71"/><rect x="403.4" y="444.34" width="5.46" height="296.46"/><rect x="408.86" y="438.42" width="5.46" height="302.38"/><rect x="414.32" y="462.25" width="5.46" height="278.55"/><rect x="419.78" y="505.62" width="5.46" height="235.18"/><rect x="425.24" y="556.54" width="5.46" height="184.26"/><rect x="430.7" y="608.86" width="5.46" height="131.94"/><rect x="436.16" y="653.04" width="5.46" height="87.76"/><rect x="441.62" y="686.17" width="5.46" height="54.63"/><rect x="447.08" y="710.1" width="5.46" height="30.7"/><rect x="452.54" y="724.68" width="5.46" height="16.12"/><rect x="458" y="733" width="5.46" height="7.8"/><rect x="463.46" y="737.34" width="5.46" height="3.46"/><rect x="468.92" y="739.36" width="5.46" height="1.44"/><rect x="474.38" y="740.26" width="5.46" height="0.54"/><rect x="479.84" y="740.61" width="5.46" height="0.19"/></g><path d="M344.02,739.76 345.34,739.5 346.66,739.17 347.98,738.77 349.3,738.28 350.62,737.7 351.94,736.99 353.26,736.14 354.58,735.13 355.9,733.93 357.22,732.53 358.54,730.87 359.86,728.95 361.18,726.72 362.5,724.15 363.81,721.2 365.13,717.84 366.45,714.02 367.77,709.72 369.09,704.9 370.41,699.53 371.73,693.57 373.05,687.01 374.37,679.83 375.69,672.01 377.01,663.56 378.33,654.47 379.65,644.77 380.97,634.48 382.29,623.65 383.61,612.31 384.93,600.54 386.25,588.42 387.57,576.02 388.89,563.46 390.2,550.83 391.52,538.26 392.84,525.88 394.16,513.81 395.48,502.2 396.8,491.16 398.12,480.85 399.44,471.38 400.76,462.88 402.08,455.46 403.4,449.22 404.72,444.25 406.04,440.61 407.36,438.36 408.68,437.52 410,438.11 411.32,440.11 412.64,443.51 413.96,448.26 415.28,454.28 416.59,461.5 417.91,469.82 419.23,479.12 420.55,489.3 421.87,500.21 423.19,511.74 424.51,523.74 425.83,536.07 427.15,548.62 428.47,561.24 429.79,573.83 431.11,586.26 432.43,598.44 433.75,610.28 435.07,621.69 436.39,632.62 437.71,643.01 439.03,652.81 440.35,662.01 441.67,670.57 442.99,678.5 444.3,685.8 445.62,692.46 446.94,698.52 448.26,704 449.58,708.91 450.9,713.3 452.22,717.2 453.54,720.64 454.86,723.66 456.18,726.29 457.5,728.58 458.82,730.56 460.14,732.25 461.46,733.7 462.78,734.93 464.1,735.97 465.42,736.85 466.74,737.58 468.06,738.19 469.38,738.69 470.69,739.11 472.01,739.45 473.33,739.72" fill="none" stroke="#0a0f16" stroke-width="1.6" stroke-linejoin="round"/><g stroke="#fff" stroke-width="1.65" clip-path="url(#cp10)"><line x1="321.5" x2="485.3" y1="702.58" y2="702.58" stroke-opacity="0.14"/><line x1="321.5" x2="485.3" y1="626.12" y2="626.12" stroke-opacity="0.14"/><line x1="321.5" x2="485.3" y1="587.9" y2="587.9" stroke-opacity="0.04"/><line x1="321.5" x2="485.3" y1="549.67" y2="549.67" stroke-opacity="0.14"/><line x1="321.5" x2="485.3" y1="511.45" y2="511.45" stroke-opacity="0.04"/><line x1="321.5" x2="485.3" y1="473.22" y2="473.22" stroke-opacity="0.14"/><line x1="321.5" x2="485.3" y1="435" y2="435" stroke-opacity="0.04"/></g><clipPath id="cp10"><use href="#dp10"/></clipPath><line x1="321.5" x2="485.3" y1="740.8" y2="740.8" stroke="#0d1418" stroke-width="1.6"/><line x1="371.13" x2="371.13" y1="420.05" y2="755.25" stroke="#ff0000" stroke-width="3.0"/><line x1="446.46" x2="446.46" y1="420.05" y2="755.25" stroke="#ff0000" stroke-width="3.0"/><line x1="408.79" x2="408.79" y1="420.05" y2="755.25" stroke="#0000ff" stroke-width="2.4"/><rect x="76.15" y="420.05" width="523.8" height="335.2" fill="none" stroke="#4455c3" stroke-width="1.9"/><g stroke="#8f8f8f" stroke-width="0.85"><line x1="72.2" x2="75.2" y1="740.8" y2="740.8"/><line x1="72.2" x2="75.2" y1="664.35" y2="664.35"/><line x1="72.2" x2="75.2" y1="587.9" y2="587.9"/><line x1="72.2" x2="75.2" y1="511.45" y2="511.45"/><line x1="72.2" x2="75.2" y1="435" y2="435"/><line x1="99.25" x2="99.25" y1="756.2" y2="759.2"/><line x1="194.8" x2="194.8" y1="756.2" y2="759.2"/><line x1="290.35" x2="290.35" y1="756.2" y2="759.2"/><line x1="385.9" x2="385.9" y1="756.2" y2="759.2"/><line x1="481.45" x2="481.45" y1="756.2" y2="759.2"/><line x1="577" x2="577" y1="756.2" y2="759.2"/></g><g font-family="'Liberation Sans', Arial, Helvetica, sans-serif" font-weight="bold" font-size="23.1" fill="#000"><text x="70.6" y="749.7" text-anchor="end">0.0</text><text x="70.6" y="673.25" text-anchor="end">0.1</text><text x="70.6" y="596.8" text-anchor="end">0.2</text><text x="70.6" y="520.35" text-anchor="end">0.3</text><text x="70.6" y="443.9" text-anchor="end">0.4</text><text x="99.25" y="778.3" text-anchor="middle">15</text><text x="194.8" y="778.3" text-anchor="middle">20</text><text x="290.35" y="778.3" text-anchor="middle">25</text><text x="385.9" y="778.3" text-anchor="middle">30</text><text x="481.45" y="778.3" text-anchor="middle">35</text><text x="577" y="778.3" text-anchor="middle">40</text></g><text x="338.05" y="801.7" text-anchor="middle" font-family="'Liberation Sans', Arial, Helvetica, sans-serif" font-size="22" fill="#111">RMSE%</text><text transform="translate(32.3 587.65) rotate(-90)" text-anchor="middle" font-family="'Liberation Sans', Arial, Helvetica, sans-serif" font-size="22" fill="#111">density</text><text transform="translate(95.4 458.3) scale(1.27 1)" font-family="'Liberation Serif', 'DejaVu Serif', serif" font-size="33.5" fill="#000">μ</text><text transform="translate(96.8 496.4) scale(1.1 1)" font-family="'Liberation Serif', 'DejaVu Serif', serif" font-size="38.5" fill="#000">σ</text><g font-family="'Liberation Sans', Arial, Helvetica, sans-serif" font-weight="bold" font-size="22.65" fill="#000"><text x="128.3" y="461.8">31.198</text><text x="129.5" y="495.4">1.971</text><text x="496.4" y="461.6">KNN</text><text x="496.4" y="495.5">Landsat</text></g><text x="495.4" y="731.7" font-family="'Liberation Sans', Arial, Helvetica, sans-serif" font-size="25.6" fill="#00008b">CI=95%</text></g>
<g><rect x="675.05" y="420.05" width="523.8" height="335.2" fill="#99dae7"/><g stroke="#ffffff" stroke-width="1.3"><line x1="698.15" x2="698.15" y1="420.05" y2="755.25" stroke-opacity="0.03"/><line x1="745.92" x2="745.92" y1="420.05" y2="755.25" stroke-opacity="0.6"/><line x1="793.7" x2="793.7" y1="420.05" y2="755.25" stroke-opacity="0.03"/><line x1="841.47" x2="841.47" y1="420.05" y2="755.25" stroke-opacity="0.6"/><line x1="889.25" x2="889.25" y1="420.05" y2="755.25" stroke-opacity="0.03"/><line x1="937.02" x2="937.02" y1="420.05" y2="755.25" stroke-opacity="0.6"/><line x1="984.8" x2="984.8" y1="420.05" y2="755.25" stroke-opacity="0.38"/><line x1="1032.58" x2="1032.58" y1="420.05" y2="755.25" stroke-opacity="0.6"/><line x1="1080.35" x2="1080.35" y1="420.05" y2="755.25" stroke-opacity="0.03"/><line x1="1128.12" x2="1128.12" y1="420.05" y2="755.25" stroke-opacity="0.6"/><line x1="1175.9" x2="1175.9" y1="420.05" y2="755.25" stroke-opacity="0.03"/></g><g stroke="#ffffff" stroke-width="1.5"><line x1="675.05" x2="1198.85" y1="740.8" y2="740.8" stroke-opacity="0.2"/><line x1="675.05" x2="1198.85" y1="702.58" y2="702.58" stroke-opacity="0.64"/><line x1="675.05" x2="1198.85" y1="664.35" y2="664.35" stroke-opacity="0.1"/><line x1="675.05" x2="1198.85" y1="626.12" y2="626.12" stroke-opacity="0.64"/><line x1="675.05" x2="1198.85" y1="587.9" y2="587.9" stroke-opacity="0.2"/><line x1="675.05" x2="1198.85" y1="549.67" y2="549.67" stroke-opacity="0.64"/><line x1="675.05" x2="1198.85" y1="511.45" y2="511.45" stroke-opacity="0.2"/><line x1="675.05" x2="1198.85" y1="473.22" y2="473.22" stroke-opacity="0.64"/><line x1="675.05" x2="1198.85" y1="435" y2="435" stroke-opacity="0.2"/></g><path id="dp11" d="M804.94,740.8 L804.94,740.67 806.36,740.64 807.78,740.59 809.19,740.52 810.61,740.44 812.03,740.34 813.45,740.22 814.87,740.06 816.29,739.87 817.71,739.63 819.13,739.33 820.55,738.97 821.97,738.53 823.39,738 824.81,737.36 826.23,736.6 827.65,735.69 829.07,734.6 830.49,733.33 831.91,731.84 833.32,730.09 834.74,728.07 836.16,725.74 837.58,723.06 839,720.01 840.42,716.55 841.84,712.64 843.26,708.25 844.68,703.36 846.1,697.93 847.52,691.95 848.94,685.39 850.36,678.25 851.78,670.52 853.2,662.2 854.62,653.31 856.03,643.87 857.45,633.92 858.87,623.49 860.29,612.66 861.71,601.48 863.13,590.03 864.55,578.41 865.97,566.71 867.39,555.05 868.81,543.53 870.23,532.28 871.65,521.42 873.07,511.08 874.49,501.38 875.91,492.44 877.33,484.38 878.74,477.29 880.16,471.28 881.58,466.42 883,462.79 884.42,460.42 885.84,459.37 887.26,459.63 888.68,461.21 890.1,464.09 891.52,468.21 892.94,473.54 894.36,479.99 895.78,487.48 897.2,495.91 898.62,505.16 900.04,515.13 901.46,525.69 902.87,536.72 904.29,548.09 905.71,559.68 907.13,571.37 908.55,583.05 909.97,594.62 911.39,605.97 912.81,617.02 914.23,627.7 915.65,637.94 917.07,647.69 918.49,656.92 919.91,665.58 921.33,673.67 922.75,681.16 924.17,688.07 925.58,694.4 927,700.16 928.42,705.37 929.84,710.06 931.26,714.25 932.68,717.98 934.1,721.27 935.52,724.17 936.94,726.71 938.36,728.91 939.78,730.82 941.2,732.46 942.62,733.86 944.04,735.06 945.46,736.07 946.88,736.92 948.29,737.63 949.71,738.23 951.13,738.72 952.55,739.12 953.97,739.46 955.39,739.73 956.81,739.95 958.23,740.13 959.65,740.27 961.07,740.39 962.49,740.48 963.91,740.55 965.33,740.61 966.75,740.65 968.17,740.69 969.59,740.71 971.01,740.74 972.42,740.75 973.84,740.76 975.26,740.77 L975.26,740.8 Z" fill="#5f87e0" fill-opacity="0.6" stroke="none"/><g fill="#5f87e0" stroke="#112268" stroke-width="1.3"><rect x="802" y="740.67" width="5.87" height="0.13"/><rect x="807.87" y="740.43" width="5.87" height="0.37"/><rect x="813.75" y="739.81" width="5.87" height="0.99"/><rect x="819.62" y="738.35" width="5.87" height="2.45"/><rect x="825.49" y="735.19" width="5.87" height="5.61"/><rect x="831.37" y="728.8" width="5.87" height="12"/><rect x="837.24" y="717.36" width="5.87" height="23.44"/><rect x="843.11" y="697.96" width="5.87" height="42.84"/><rect x="848.99" y="669.6" width="5.87" height="71.2"/><rect x="854.86" y="631.53" width="5.87" height="109.27"/><rect x="860.73" y="585.9" width="5.87" height="154.9"/><rect x="866.61" y="537.56" width="5.87" height="203.24"/><rect x="872.48" y="498.08" width="5.87" height="242.72"/><rect x="878.35" y="468.51" width="5.87" height="272.29"/><rect x="884.23" y="462.5" width="5.87" height="278.3"/><rect x="890.1" y="472.37" width="5.87" height="268.43"/><rect x="895.97" y="510.14" width="5.87" height="230.66"/><rect x="901.85" y="551.31" width="5.87" height="189.49"/><rect x="907.72" y="601.87" width="5.87" height="138.93"/><rect x="913.59" y="643.95" width="5.87" height="96.85"/><rect x="919.47" y="679.81" width="5.87" height="60.99"/><rect x="925.34" y="705.04" width="5.87" height="35.76"/><rect x="931.21" y="721.29" width="5.87" height="19.51"/><rect x="937.09" y="731.25" width="5.87" height="9.55"/><rect x="942.96" y="736.4" width="5.87" height="4.4"/><rect x="948.83" y="738.9" width="5.87" height="1.9"/><rect x="954.71" y="740.06" width="5.87" height="0.74"/><rect x="960.58" y="740.54" width="5.87" height="0.26"/><rect x="966.45" y="740.71" width="5.87" height="0.09"/><rect x="972.33" y="740.77" width="5.87" height="0.03"/></g><path d="M816.29,739.87 817.71,739.63 819.13,739.33 820.55,738.97 821.97,738.53 823.39,738 824.81,737.36 826.23,736.6 827.65,735.69 829.07,734.6 830.49,733.33 831.91,731.84 833.32,730.09 834.74,728.07 836.16,725.74 837.58,723.06 839,720.01 840.42,716.55 841.84,712.64 843.26,708.25 844.68,703.36 846.1,697.93 847.52,691.95 848.94,685.39 850.36,678.25 851.78,670.52 853.2,662.2 854.62,653.31 856.03,643.87 857.45,633.92 858.87,623.49 860.29,612.66 861.71,601.48 863.13,590.03 864.55,578.41 865.97,566.71 867.39,555.05 868.81,543.53 870.23,532.28 871.65,521.42 873.07,511.08 874.49,501.38 875.91,492.44 877.33,484.38 878.74,477.29 880.16,471.28 881.58,466.42 883,462.79 884.42,460.42 885.84,459.37 887.26,459.63 888.68,461.21 890.1,464.09 891.52,468.21 892.94,473.54 894.36,479.99 895.78,487.48 897.2,495.91 898.62,505.16 900.04,515.13 901.46,525.69 902.87,536.72 904.29,548.09 905.71,559.68 907.13,571.37 908.55,583.05 909.97,594.62 911.39,605.97 912.81,617.02 914.23,627.7 915.65,637.94 917.07,647.69 918.49,656.92 919.91,665.58 921.33,673.67 922.75,681.16 924.17,688.07 925.58,694.4 927,700.16 928.42,705.37 929.84,710.06 931.26,714.25 932.68,717.98 934.1,721.27 935.52,724.17 936.94,726.71 938.36,728.91 939.78,730.82 941.2,732.46 942.62,733.86 944.04,735.06 945.46,736.07 946.88,736.92 948.29,737.63 949.71,738.23 951.13,738.72 952.55,739.12 953.97,739.46 955.39,739.73" fill="none" stroke="#0a0f16" stroke-width="1.6" stroke-linejoin="round"/><g stroke="#fff" stroke-width="1.65" clip-path="url(#cp11)"><line x1="802" x2="978.2" y1="702.58" y2="702.58" stroke-opacity="0.14"/><line x1="802" x2="978.2" y1="626.12" y2="626.12" stroke-opacity="0.14"/><line x1="802" x2="978.2" y1="587.9" y2="587.9" stroke-opacity="0.04"/><line x1="802" x2="978.2" y1="549.67" y2="549.67" stroke-opacity="0.14"/><line x1="802" x2="978.2" y1="511.45" y2="511.45" stroke-opacity="0.04"/><line x1="802" x2="978.2" y1="473.22" y2="473.22" stroke-opacity="0.14"/><line x1="802" x2="978.2" y1="435" y2="435" stroke-opacity="0.04"/></g><clipPath id="cp11"><use href="#dp11"/></clipPath><line x1="802" x2="978.2" y1="740.8" y2="740.8" stroke="#0d1418" stroke-width="1.6"/><line x1="845.89" x2="845.89" y1="420.05" y2="755.25" stroke="#ff0000" stroke-width="3.0"/><line x1="926.65" x2="926.65" y1="420.05" y2="755.25" stroke="#ff0000" stroke-width="3.0"/><line x1="886.27" x2="886.27" y1="420.05" y2="755.25" stroke="#0000ff" stroke-width="2.4"/><rect x="675.05" y="420.05" width="523.8" height="335.2" fill="none" stroke="#4455c3" stroke-width="1.9"/><g stroke="#8f8f8f" stroke-width="0.85"><line x1="671.1" x2="674.1" y1="740.8" y2="740.8"/><line x1="671.1" x2="674.1" y1="664.35" y2="664.35"/><line x1="671.1" x2="674.1" y1="587.9" y2="587.9"/><line x1="671.1" x2="674.1" y1="511.45" y2="511.45"/><line x1="671.1" x2="674.1" y1="435" y2="435"/><line x1="698.15" x2="698.15" y1="756.2" y2="759.2"/><line x1="793.7" x2="793.7" y1="756.2" y2="759.2"/><line x1="889.25" x2="889.25" y1="756.2" y2="759.2"/><line x1="984.8" x2="984.8" y1="756.2" y2="759.2"/><line x1="1080.35" x2="1080.35" y1="756.2" y2="759.2"/><line x1="1175.9" x2="1175.9" y1="756.2" y2="759.2"/></g><g font-family="'Liberation Sans', Arial, Helvetica, sans-serif" font-weight="bold" font-size="23.1" fill="#000"><text x="669.5" y="749.7" text-anchor="end">0.0</text><text x="669.5" y="673.25" text-anchor="end">0.1</text><text x="669.5" y="596.8" text-anchor="end">0.2</text><text x="669.5" y="520.35" text-anchor="end">0.3</text><text x="669.5" y="443.9" text-anchor="end">0.4</text><text x="698.15" y="778.3" text-anchor="middle">15</text><text x="793.7" y="778.3" text-anchor="middle">20</text><text x="889.25" y="778.3" text-anchor="middle">25</text><text x="984.8" y="778.3" text-anchor="middle">30</text><text x="1080.35" y="778.3" text-anchor="middle">35</text><text x="1175.9" y="778.3" text-anchor="middle">40</text></g><text x="936.95" y="801.7" text-anchor="middle" font-family="'Liberation Sans', Arial, Helvetica, sans-serif" font-size="22" fill="#111">RMSE%</text><text transform="translate(630.2 587.65) rotate(-90)" text-anchor="middle" font-family="'Liberation Sans', Arial, Helvetica, sans-serif" font-size="22" fill="#111">density</text><text transform="translate(694.3 458.3) scale(1.27 1)" font-family="'Liberation Serif', 'DejaVu Serif', serif" font-size="33.5" fill="#000">μ</text><text transform="translate(695.7 496.4) scale(1.1 1)" font-family="'Liberation Serif', 'DejaVu Serif', serif" font-size="38.5" fill="#000">σ</text><g font-family="'Liberation Sans', Arial, Helvetica, sans-serif" font-weight="bold" font-size="22.65" fill="#000"><text x="727.2" y="461.8">24.844</text><text x="728.4" y="495.4">2.113</text><text x="1095.3" y="461.6">KNN</text><text x="1093.7" y="495.5">ALS</text></g><text x="1094.3" y="731.7" font-family="'Liberation Sans', Arial, Helvetica, sans-serif" font-size="25.6" fill="#00008b">CI=95%</text></g>
<g><rect x="1273.45" y="420.05" width="523.8" height="335.2" fill="#99dae7"/><g stroke="#ffffff" stroke-width="1.3"><line x1="1296.55" x2="1296.55" y1="420.05" y2="755.25" stroke-opacity="0.03"/><line x1="1344.33" x2="1344.33" y1="420.05" y2="755.25" stroke-opacity="0.6"/><line x1="1392.1" x2="1392.1" y1="420.05" y2="755.25" stroke-opacity="0.03"/><line x1="1439.88" x2="1439.88" y1="420.05" y2="755.25" stroke-opacity="0.6"/><line x1="1487.65" x2="1487.65" y1="420.05" y2="755.25" stroke-opacity="0.03"/><line x1="1535.42" x2="1535.42" y1="420.05" y2="755.25" stroke-opacity="0.6"/><line x1="1583.2" x2="1583.2" y1="420.05" y2="755.25" stroke-opacity="0.38"/><line x1="1630.97" x2="1630.97" y1="420.05" y2="755.25" stroke-opacity="0.6"/><line x1="1678.75" x2="1678.75" y1="420.05" y2="755.25" stroke-opacity="0.03"/><line x1="1726.52" x2="1726.52" y1="420.05" y2="755.25" stroke-opacity="0.6"/><line x1="1774.3" x2="1774.3" y1="420.05" y2="755.25" stroke-opacity="0.03"/></g><g stroke="#ffffff" stroke-width="1.5"><line x1="1273.45" x2="1797.25" y1="740.8" y2="740.8" stroke-opacity="0.2"/><line x1="1273.45" x2="1797.25" y1="702.58" y2="702.58" stroke-opacity="0.64"/><line x1="1273.45" x2="1797.25" y1="664.35" y2="664.35" stroke-opacity="0.1"/><line x1="1273.45" x2="1797.25" y1="626.12" y2="626.12" stroke-opacity="0.64"/><line x1="1273.45" x2="1797.25" y1="587.9" y2="587.9" stroke-opacity="0.2"/><line x1="1273.45" x2="1797.25" y1="549.67" y2="549.67" stroke-opacity="0.64"/><line x1="1273.45" x2="1797.25" y1="511.45" y2="511.45" stroke-opacity="0.2"/><line x1="1273.45" x2="1797.25" y1="473.22" y2="473.22" stroke-opacity="0.64"/><line x1="1273.45" x2="1797.25" y1="435" y2="435" stroke-opacity="0.2"/></g><path id="dp12" d="M1407.81,740.8 L1407.81,740.5 1409.17,740.42 1410.53,740.32 1411.88,740.2 1413.24,740.04 1414.6,739.85 1415.96,739.62 1417.32,739.34 1418.68,738.99 1420.03,738.58 1421.39,738.08 1422.75,737.48 1424.11,736.77 1425.47,735.94 1426.82,734.95 1428.18,733.79 1429.54,732.43 1430.9,730.86 1432.26,729.04 1433.62,726.95 1434.97,724.56 1436.33,721.84 1437.69,718.76 1439.05,715.29 1440.41,711.4 1441.76,707.06 1443.12,702.25 1444.48,696.94 1445.84,691.12 1447.2,684.76 1448.55,677.87 1449.91,670.43 1451.27,662.45 1452.63,653.95 1453.99,644.94 1455.35,635.44 1456.7,625.51 1458.06,615.19 1459.42,604.53 1460.78,593.6 1462.14,582.48 1463.49,571.26 1464.85,560.02 1466.21,548.87 1467.57,537.91 1468.93,527.25 1470.29,517 1471.64,507.27 1473,498.17 1474.36,489.8 1475.72,482.25 1477.08,475.63 1478.43,470.02 1479.79,465.47 1481.15,462.06 1482.51,459.82 1483.87,458.79 1485.23,458.97 1486.58,460.37 1487.94,462.96 1489.3,466.71 1490.66,471.58 1492.02,477.51 1493.37,484.41 1494.73,492.21 1496.09,500.81 1497.45,510.11 1498.81,520.01 1500.17,530.39 1501.52,541.15 1502.88,552.18 1504.24,563.37 1505.6,574.61 1506.96,585.81 1508.31,596.88 1509.67,607.74 1511.03,618.3 1512.39,628.52 1513.75,638.32 1515.11,647.67 1516.46,656.54 1517.82,664.89 1519.18,672.7 1520.54,679.98 1521.9,686.71 1523.25,692.91 1524.61,698.57 1525.97,703.73 1527.33,708.4 1528.69,712.6 1530.04,716.36 1531.4,719.72 1532.76,722.69 1534.12,725.31 1535.48,727.6 1536.84,729.61 1538.19,731.35 1539.55,732.86 1540.91,734.15 1542.27,735.26 1543.63,736.2 1544.98,737 1546.34,737.67 1547.7,738.24 1549.06,738.71 1550.42,739.1 1551.78,739.43 1553.13,739.69 1554.49,739.91 1555.85,740.09 1557.21,740.24 1558.57,740.36 1559.92,740.45 1561.28,740.52 1562.64,740.59 1564,740.63 1565.36,740.67 1566.72,740.7 1568.07,740.72 1569.43,740.74 1570.79,740.76 L1570.79,740.8 Z" fill="#5f87e0" fill-opacity="0.6" stroke="none"/><g fill="#5f87e0" stroke="#112268" stroke-width="1.3"><rect x="1405" y="740.51" width="5.62" height="0.29"/><rect x="1410.62" y="740.02" width="5.62" height="0.78"/><rect x="1416.24" y="738.88" width="5.62" height="1.92"/><rect x="1421.86" y="736.42" width="5.62" height="4.38"/><rect x="1427.48" y="731.68" width="5.62" height="9.12"/><rect x="1433.1" y="722.88" width="5.62" height="17.92"/><rect x="1438.72" y="708.19" width="5.62" height="32.61"/><rect x="1444.34" y="685.49" width="5.62" height="55.31"/><rect x="1449.96" y="652.85" width="5.62" height="87.95"/><rect x="1455.58" y="614.07" width="5.62" height="126.73"/><rect x="1461.2" y="567.39" width="5.62" height="173.41"/><rect x="1466.82" y="523.93" width="5.62" height="216.87"/><rect x="1472.44" y="486.68" width="5.62" height="254.12"/><rect x="1478.06" y="463.93" width="5.62" height="276.87"/><rect x="1483.68" y="458.99" width="5.62" height="281.81"/><rect x="1489.3" y="478.11" width="5.62" height="262.69"/><rect x="1494.92" y="515.24" width="5.62" height="225.56"/><rect x="1500.54" y="557.49" width="5.62" height="183.31"/><rect x="1506.16" y="603.65" width="5.62" height="137.15"/><rect x="1511.78" y="643.68" width="5.62" height="97.12"/><rect x="1517.4" y="678.04" width="5.62" height="62.76"/><rect x="1523.02" y="703.08" width="5.62" height="37.72"/><rect x="1528.64" y="719.74" width="5.62" height="21.06"/><rect x="1534.26" y="729.9" width="5.62" height="10.9"/><rect x="1539.88" y="735.53" width="5.62" height="5.27"/><rect x="1545.5" y="738.45" width="5.62" height="2.35"/><rect x="1551.12" y="739.84" width="5.62" height="0.96"/><rect x="1556.74" y="740.42" width="5.62" height="0.38"/><rect x="1562.36" y="740.67" width="5.62" height="0.13"/><rect x="1567.98" y="740.76" width="5.62" height="0.04"/></g><path d="M1414.6,739.85 1415.96,739.62 1417.32,739.34 1418.68,738.99 1420.03,738.58 1421.39,738.08 1422.75,737.48 1424.11,736.77 1425.47,735.94 1426.82,734.95 1428.18,733.79 1429.54,732.43 1430.9,730.86 1432.26,729.04 1433.62,726.95 1434.97,724.56 1436.33,721.84 1437.69,718.76 1439.05,715.29 1440.41,711.4 1441.76,707.06 1443.12,702.25 1444.48,696.94 1445.84,691.12 1447.2,684.76 1448.55,677.87 1449.91,670.43 1451.27,662.45 1452.63,653.95 1453.99,644.94 1455.35,635.44 1456.7,625.51 1458.06,615.19 1459.42,604.53 1460.78,593.6 1462.14,582.48 1463.49,571.26 1464.85,560.02 1466.21,548.87 1467.57,537.91 1468.93,527.25 1470.29,517 1471.64,507.27 1473,498.17 1474.36,489.8 1475.72,482.25 1477.08,475.63 1478.43,470.02 1479.79,465.47 1481.15,462.06 1482.51,459.82 1483.87,458.79 1485.23,458.97 1486.58,460.37 1487.94,462.96 1489.3,466.71 1490.66,471.58 1492.02,477.51 1493.37,484.41 1494.73,492.21 1496.09,500.81 1497.45,510.11 1498.81,520.01 1500.17,530.39 1501.52,541.15 1502.88,552.18 1504.24,563.37 1505.6,574.61 1506.96,585.81 1508.31,596.88 1509.67,607.74 1511.03,618.3 1512.39,628.52 1513.75,638.32 1515.11,647.67 1516.46,656.54 1517.82,664.89 1519.18,672.7 1520.54,679.98 1521.9,686.71 1523.25,692.91 1524.61,698.57 1525.97,703.73 1527.33,708.4 1528.69,712.6 1530.04,716.36 1531.4,719.72 1532.76,722.69 1534.12,725.31 1535.48,727.6 1536.84,729.61 1538.19,731.35 1539.55,732.86 1540.91,734.15 1542.27,735.26 1543.63,736.2 1544.98,737 1546.34,737.67 1547.7,738.24 1549.06,738.71 1550.42,739.1 1551.78,739.43 1553.13,739.69" fill="none" stroke="#0a0f16" stroke-width="1.6" stroke-linejoin="round"/><g stroke="#fff" stroke-width="1.65" clip-path="url(#cp12)"><line x1="1405" x2="1573.6" y1="702.58" y2="702.58" stroke-opacity="0.14"/><line x1="1405" x2="1573.6" y1="626.12" y2="626.12" stroke-opacity="0.14"/><line x1="1405" x2="1573.6" y1="587.9" y2="587.9" stroke-opacity="0.04"/><line x1="1405" x2="1573.6" y1="549.67" y2="549.67" stroke-opacity="0.14"/><line x1="1405" x2="1573.6" y1="511.45" y2="511.45" stroke-opacity="0.04"/><line x1="1405" x2="1573.6" y1="473.22" y2="473.22" stroke-opacity="0.14"/><line x1="1405" x2="1573.6" y1="435" y2="435" stroke-opacity="0.04"/></g><clipPath id="cp12"><use href="#dp12"/></clipPath><line x1="1405" x2="1573.6" y1="740.8" y2="740.8" stroke="#0d1418" stroke-width="1.6"/><line x1="1444.58" x2="1444.58" y1="420.05" y2="755.25" stroke="#ff0000" stroke-width="3.0"/><line x1="1524.11" x2="1524.11" y1="420.05" y2="755.25" stroke="#ff0000" stroke-width="3.0"/><line x1="1484.34" x2="1484.34" y1="420.05" y2="755.25" stroke="#0000ff" stroke-width="2.4"/><rect x="1273.45" y="420.05" width="523.8" height="335.2" fill="none" stroke="#4455c3" stroke-width="1.9"/><g stroke="#8f8f8f" stroke-width="0.85"><line x1="1269.5" x2="1272.5" y1="740.8" y2="740.8"/><line x1="1269.5" x2="1272.5" y1="664.35" y2="664.35"/><line x1="1269.5" x2="1272.5" y1="587.9" y2="587.9"/><line x1="1269.5" x2="1272.5" y1="511.45" y2="511.45"/><line x1="1269.5" x2="1272.5" y1="435" y2="435"/><line x1="1296.55" x2="1296.55" y1="756.2" y2="759.2"/><line x1="1392.1" x2="1392.1" y1="756.2" y2="759.2"/><line x1="1487.65" x2="1487.65" y1="756.2" y2="759.2"/><line x1="1583.2" x2="1583.2" y1="756.2" y2="759.2"/><line x1="1678.75" x2="1678.75" y1="756.2" y2="759.2"/><line x1="1774.3" x2="1774.3" y1="756.2" y2="759.2"/></g><g font-family="'Liberation Sans', Arial, Helvetica, sans-serif" font-weight="bold" font-size="23.1" fill="#000"><text x="1267.9" y="749.7" text-anchor="end">0.0</text><text x="1267.9" y="673.25" text-anchor="end">0.1</text><text x="1267.9" y="596.8" text-anchor="end">0.2</text><text x="1267.9" y="520.35" text-anchor="end">0.3</text><text x="1267.9" y="443.9" text-anchor="end">0.4</text><text x="1296.55" y="778.3" text-anchor="middle">15</text><text x="1392.1" y="778.3" text-anchor="middle">20</text><text x="1487.65" y="778.3" text-anchor="middle">25</text><text x="1583.2" y="778.3" text-anchor="middle">30</text><text x="1678.75" y="778.3" text-anchor="middle">35</text><text x="1774.3" y="778.3" text-anchor="middle">40</text></g><text x="1535.35" y="801.7" text-anchor="middle" font-family="'Liberation Sans', Arial, Helvetica, sans-serif" font-size="22" fill="#111">RMSE%</text><text transform="translate(1228.8 587.65) rotate(-90)" text-anchor="middle" font-family="'Liberation Sans', Arial, Helvetica, sans-serif" font-size="22" fill="#111">density</text><text transform="translate(1292.7 458.3) scale(1.27 1)" font-family="'Liberation Serif', 'DejaVu Serif', serif" font-size="33.5" fill="#000">μ</text><text transform="translate(1294.1 496.4) scale(1.1 1)" font-family="'Liberation Serif', 'DejaVu Serif', serif" font-size="38.5" fill="#000">σ</text><g font-family="'Liberation Sans', Arial, Helvetica, sans-serif" font-weight="bold" font-size="22.65" fill="#000"><text x="1325.6" y="461.8">24.827</text><text x="1326.8" y="495.4">2.081</text><text x="1693.7" y="461.4">KNN</text><text x="1693.7" y="492.2">Landsat</text><text x="1692.1" y="524.9">ALS</text></g><text x="1692.7" y="731.7" font-family="'Liberation Sans', Arial, Helvetica, sans-serif" font-size="25.6" fill="#00008b">CI=95%</text></g>
<g><rect x="76.15" y="820.05" width="523.8" height="335.8" fill="#99dae7"/><g stroke="#ffffff" stroke-width="1.3"><line x1="99.25" x2="99.25" y1="820.05" y2="1155.85" stroke-opacity="0.03"/><line x1="147.03" x2="147.03" y1="820.05" y2="1155.85" stroke-opacity="0.6"/><line x1="194.8" x2="194.8" y1="820.05" y2="1155.85" stroke-opacity="0.03"/><line x1="242.57" x2="242.57" y1="820.05" y2="1155.85" stroke-opacity="0.6"/><line x1="290.35" x2="290.35" y1="820.05" y2="1155.85" stroke-opacity="0.38"/><line x1="338.12" x2="338.12" y1="820.05" y2="1155.85" stroke-opacity="0.6"/><line x1="385.9" x2="385.9" y1="820.05" y2="1155.85" stroke-opacity="0.38"/><line x1="433.68" x2="433.68" y1="820.05" y2="1155.85" stroke-opacity="0.6"/><line x1="481.45" x2="481.45" y1="820.05" y2="1155.85" stroke-opacity="0.2"/><line x1="529.22" x2="529.22" y1="820.05" y2="1155.85" stroke-opacity="0.6"/><line x1="577" x2="577" y1="820.05" y2="1155.85" stroke-opacity="0.03"/></g><g stroke="#ffffff" stroke-width="1.5"><line x1="76.15" x2="599.95" y1="1140.4" y2="1140.4" stroke-opacity="0.38"/><line x1="76.15" x2="599.95" y1="1102.1" y2="1102.1" stroke-opacity="0.2"/><line x1="76.15" x2="599.95" y1="1063.8" y2="1063.8" stroke-opacity="0.02"/><line x1="76.15" x2="599.95" y1="1025.5" y2="1025.5" stroke-opacity="0.64"/><line x1="76.15" x2="599.95" y1="987.2" y2="987.2" stroke-opacity="0.02"/><line x1="76.15" x2="599.95" y1="948.9" y2="948.9" stroke-opacity="0.64"/><line x1="76.15" x2="599.95" y1="910.6" y2="910.6" stroke-opacity="0.02"/><line x1="76.15" x2="599.95" y1="872.3" y2="872.3" stroke-opacity="0.5"/><line x1="76.15" x2="599.95" y1="834" y2="834" stroke-opacity="0.02"/></g><path id="dp20" d="M318.07,1140.4 L318.07,1140.31 319.36,1140.28 320.65,1140.25 321.94,1140.2 323.23,1140.14 324.52,1140.07 325.81,1139.97 327.1,1139.85 328.39,1139.71 329.68,1139.52 330.98,1139.3 332.27,1139.02 333.56,1138.67 334.85,1138.26 336.14,1137.75 337.43,1137.14 338.72,1136.41 340.01,1135.53 341.3,1134.49 342.59,1133.27 343.88,1131.82 345.17,1130.14 346.46,1128.17 347.75,1125.9 349.04,1123.29 350.33,1120.3 351.62,1116.89 352.91,1113.04 354.2,1108.7 355.49,1103.84 356.79,1098.42 358.08,1092.44 359.37,1085.84 360.66,1078.63 361.95,1070.79 363.24,1062.32 364.53,1053.21 365.82,1043.5 367.11,1033.19 368.4,1022.34 369.69,1011 370.98,999.21 372.27,987.06 373.56,974.64 374.85,962.03 376.14,949.35 377.43,936.71 378.72,924.24 380.01,912.06 381.3,900.31 382.59,889.11 383.89,878.61 385.18,868.93 386.47,860.19 387.76,852.49 389.05,845.96 390.34,840.66 391.63,836.67 392.92,834.05 394.21,832.84 395.5,833.04 396.79,834.66 398.08,837.67 399.37,842.03 400.66,847.69 401.95,854.57 403.24,862.57 404.53,871.59 405.82,881.52 407.11,892.23 408.41,903.59 409.7,915.48 410.99,927.76 412.28,940.29 413.57,952.95 414.86,965.62 416.15,978.19 417.44,990.54 418.73,1002.6 420.02,1014.27 421.31,1025.48 422.6,1036.18 423.89,1046.32 425.18,1055.86 426.47,1064.79 427.76,1073.08 429.05,1080.74 430.34,1087.78 431.63,1094.2 432.92,1100.02 434.21,1105.27 435.51,1109.98 436.8,1114.18 438.09,1117.9 439.38,1121.19 440.67,1124.07 441.96,1126.58 443.25,1128.76 444.54,1130.64 445.83,1132.26 447.12,1133.64 448.41,1134.81 449.7,1135.8 450.99,1136.63 452.28,1137.33 453.57,1137.9 454.86,1138.38 456.15,1138.78 457.44,1139.1 458.73,1139.37 460.02,1139.58 461.32,1139.75 462.61,1139.89 463.9,1140 465.19,1140.09 466.48,1140.16 467.77,1140.21 469.06,1140.26 470.35,1140.29 471.64,1140.32 472.93,1140.34 L472.93,1140.4 Z" fill="#5f87e0" fill-opacity="0.6" stroke="none"/><g fill="#5f87e0" stroke="#112268" stroke-width="1.3"><rect x="315.4" y="1140.31" width="5.34" height="0.09"/><rect x="320.74" y="1140.13" width="5.34" height="0.27"/><rect x="326.08" y="1139.66" width="5.34" height="0.74"/><rect x="331.42" y="1138.52" width="5.34" height="1.88"/><rect x="336.76" y="1135.99" width="5.34" height="4.41"/><rect x="342.1" y="1130.65" width="5.34" height="9.75"/><rect x="347.44" y="1120.77" width="5.34" height="19.63"/><rect x="352.78" y="1104.11" width="5.34" height="36.29"/><rect x="358.12" y="1078.03" width="5.34" height="62.37"/><rect x="363.46" y="1041.94" width="5.34" height="98.46"/><rect x="368.8" y="996.67" width="5.34" height="143.73"/><rect x="374.14" y="943.95" width="5.34" height="196.45"/><rect x="379.48" y="893.18" width="5.34" height="247.22"/><rect x="384.82" y="857.57" width="5.34" height="282.83"/><rect x="390.16" y="833.13" width="5.34" height="307.27"/><rect x="395.5" y="840.62" width="5.34" height="299.78"/><rect x="400.84" y="866.8" width="5.34" height="273.6"/><rect x="406.18" y="910.68" width="5.34" height="229.72"/><rect x="411.52" y="957.63" width="5.34" height="182.77"/><rect x="416.86" y="1009.6" width="5.34" height="130.8"/><rect x="422.2" y="1053.16" width="5.34" height="87.24"/><rect x="427.54" y="1087.1" width="5.34" height="53.3"/><rect x="432.88" y="1110.53" width="5.34" height="29.87"/><rect x="438.22" y="1124.63" width="5.34" height="15.77"/><rect x="443.56" y="1132.73" width="5.34" height="7.67"/><rect x="448.9" y="1137" width="5.34" height="3.4"/><rect x="454.24" y="1138.97" width="5.34" height="1.43"/><rect x="459.58" y="1139.86" width="5.34" height="0.54"/><rect x="464.92" y="1140.21" width="5.34" height="0.19"/><rect x="470.26" y="1140.34" width="5.34" height="0.06"/></g><path d="M330.98,1139.3 332.27,1139.02 333.56,1138.67 334.85,1138.26 336.14,1137.75 337.43,1137.14 338.72,1136.41 340.01,1135.53 341.3,1134.49 342.59,1133.27 343.88,1131.82 345.17,1130.14 346.46,1128.17 347.75,1125.9 349.04,1123.29 350.33,1120.3 351.62,1116.89 352.91,1113.04 354.2,1108.7 355.49,1103.84 356.79,1098.42 358.08,1092.44 359.37,1085.84 360.66,1078.63 361.95,1070.79 363.24,1062.32 364.53,1053.21 365.82,1043.5 367.11,1033.19 368.4,1022.34 369.69,1011 370.98,999.21 372.27,987.06 373.56,974.64 374.85,962.03 376.14,949.35 377.43,936.71 378.72,924.24 380.01,912.06 381.3,900.31 382.59,889.11 383.89,878.61 385.18,868.93 386.47,860.19 387.76,852.49 389.05,845.96 390.34,840.66 391.63,836.67 392.92,834.05 394.21,832.84 395.5,833.04 396.79,834.66 398.08,837.67 399.37,842.03 400.66,847.69 401.95,854.57 403.24,862.57 404.53,871.59 405.82,881.52 407.11,892.23 408.41,903.59 409.7,915.48 410.99,927.76 412.28,940.29 413.57,952.95 414.86,965.62 416.15,978.19 417.44,990.54 418.73,1002.6 420.02,1014.27 421.31,1025.48 422.6,1036.18 423.89,1046.32 425.18,1055.86 426.47,1064.79 427.76,1073.08 429.05,1080.74 430.34,1087.78 431.63,1094.2 432.92,1100.02 434.21,1105.27 435.51,1109.98 436.8,1114.18 438.09,1117.9 439.38,1121.19 440.67,1124.07 441.96,1126.58 443.25,1128.76 444.54,1130.64 445.83,1132.26 447.12,1133.64 448.41,1134.81 449.7,1135.8 450.99,1136.63 452.28,1137.33 453.57,1137.9 454.86,1138.38 456.15,1138.78 457.44,1139.1 458.73,1139.37" fill="none" stroke="#0a0f16" stroke-width="1.6" stroke-linejoin="round"/><g stroke="#fff" stroke-width="1.65" clip-path="url(#cp20)"><line x1="315.4" x2="475.6" y1="1102.1" y2="1102.1" stroke-opacity="0.04"/><line x1="315.4" x2="475.6" y1="1025.5" y2="1025.5" stroke-opacity="0.14"/><line x1="315.4" x2="475.6" y1="948.9" y2="948.9" stroke-opacity="0.14"/><line x1="315.4" x2="475.6" y1="872.3" y2="872.3" stroke-opacity="0.11"/></g><clipPath id="cp20"><use href="#dp20"/></clipPath><line x1="315.4" x2="475.6" y1="1140.4" y2="1140.4" stroke="#33464f" stroke-width="1.3"/><line x1="357.58" x2="357.58" y1="820.05" y2="1155.85" stroke="#ff0000" stroke-width="3.0"/><line x1="431.76" x2="431.76" y1="820.05" y2="1155.85" stroke="#ff0000" stroke-width="3.0"/><line x1="394.67" x2="394.67" y1="820.05" y2="1155.85" stroke="#0000ff" stroke-width="3.1"/><rect x="76.15" y="820.05" width="523.8" height="335.8" fill="none" stroke="#4455c3" stroke-width="1.9"/><g stroke="#8f8f8f" stroke-width="0.85"><line x1="72.2" x2="75.2" y1="1140.4" y2="1140.4"/><line x1="72.2" x2="75.2" y1="1063.8" y2="1063.8"/><line x1="72.2" x2="75.2" y1="987.2" y2="987.2"/><line x1="72.2" x2="75.2" y1="910.6" y2="910.6"/><line x1="72.2" x2="75.2" y1="834" y2="834"/><line x1="99.25" x2="99.25" y1="1156.8" y2="1159.8"/><line x1="194.8" x2="194.8" y1="1156.8" y2="1159.8"/><line x1="290.35" x2="290.35" y1="1156.8" y2="1159.8"/><line x1="385.9" x2="385.9" y1="1156.8" y2="1159.8"/><line x1="481.45" x2="481.45" y1="1156.8" y2="1159.8"/><line x1="577" x2="577" y1="1156.8" y2="1159.8"/></g><g font-family="'Liberation Sans', Arial, Helvetica, sans-serif" font-weight="bold" font-size="23.1" fill="#000"><text x="70.6" y="1149.3" text-anchor="end">0.0</text><text x="70.6" y="1072.7" text-anchor="end">0.1</text><text x="70.6" y="996.1" text-anchor="end">0.2</text><text x="70.6" y="919.5" text-anchor="end">0.3</text><text x="70.6" y="842.9" text-anchor="end">0.4</text><text x="99.25" y="1178.9" text-anchor="middle">15</text><text x="194.8" y="1178.9" text-anchor="middle">20</text><text x="290.35" y="1178.9" text-anchor="middle">25</text><text x="385.9" y="1178.9" text-anchor="middle">30</text><text x="481.45" y="1178.9" text-anchor="middle">35</text><text x="577" y="1178.9" text-anchor="middle">40</text></g><text x="338.05" y="1202.3" text-anchor="middle" font-family="'Liberation Sans', Arial, Helvetica, sans-serif" font-size="22" fill="#111">RMSE%</text><text transform="translate(32.3 987.95) rotate(-90)" text-anchor="middle" font-family="'Liberation Sans', Arial, Helvetica, sans-serif" font-size="22" fill="#111">density</text><text transform="translate(95.4 857.3) scale(1.27 1)" font-family="'Liberation Serif', 'DejaVu Serif', serif" font-size="33.5" fill="#000">μ</text><text transform="translate(96.8 895.4) scale(1.1 1)" font-family="'Liberation Serif', 'DejaVu Serif', serif" font-size="38.5" fill="#000">σ</text><g font-family="'Liberation Sans', Arial, Helvetica, sans-serif" font-weight="bold" font-size="22.65" fill="#000"><text x="128.3" y="860.8">30.459</text><text x="129.5" y="894.4">1.941</text><text x="496.4" y="860.6">RF</text><text x="496.4" y="894.5">Landsat</text></g><text x="495.4" y="1131.3" font-family="'Liberation Sans', Arial, Helvetica, sans-serif" font-size="25.6" fill="#00008b">CI=95%</text></g>
<g><rect x="675.05" y="820.05" width="523.8" height="335.8" fill="#99dae7"/><g stroke="#ffffff" stroke-width="1.3"><line x1="698.15" x2="698.15" y1="820.05" y2="1155.85" stroke-opacity="0.03"/><line x1="745.92" x2="745.92" y1="820.05" y2="1155.85" stroke-opacity="0.6"/><line x1="793.7" x2="793.7" y1="820.05" y2="1155.85" stroke-opacity="0.03"/><line x1="841.47" x2="841.47" y1="820.05" y2="1155.85" stroke-opacity="0.6"/><line x1="889.25" x2="889.25" y1="820.05" y2="1155.85" stroke-opacity="0.03"/><line x1="937.02" x2="937.02" y1="820.05" y2="1155.85" stroke-opacity="0.6"/><line x1="984.8" x2="984.8" y1="820.05" y2="1155.85" stroke-opacity="0.38"/><line x1="1032.58" x2="1032.58" y1="820.05" y2="1155.85" stroke-opacity="0.6"/><line x1="1080.35" x2="1080.35" y1="820.05" y2="1155.85" stroke-opacity="0.03"/><line x1="1128.12" x2="1128.12" y1="820.05" y2="1155.85" stroke-opacity="0.6"/><line x1="1175.9" x2="1175.9" y1="820.05" y2="1155.85" stroke-opacity="0.03"/></g><g stroke="#ffffff" stroke-width="1.5"><line x1="675.05" x2="1198.85" y1="1140.4" y2="1140.4" stroke-opacity="0.38"/><line x1="675.05" x2="1198.85" y1="1102.1" y2="1102.1" stroke-opacity="0.2"/><line x1="675.05" x2="1198.85" y1="1063.8" y2="1063.8" stroke-opacity="0.02"/><line x1="675.05" x2="1198.85" y1="1025.5" y2="1025.5" stroke-opacity="0.64"/><line x1="675.05" x2="1198.85" y1="987.2" y2="987.2" stroke-opacity="0.02"/><line x1="675.05" x2="1198.85" y1="948.9" y2="948.9" stroke-opacity="0.64"/><line x1="675.05" x2="1198.85" y1="910.6" y2="910.6" stroke-opacity="0.02"/><line x1="675.05" x2="1198.85" y1="872.3" y2="872.3" stroke-opacity="0.5"/><line x1="675.05" x2="1198.85" y1="834" y2="834" stroke-opacity="0.02"/></g><path id="dp21" d="M805.14,1140.4 L805.14,1140.35 806.65,1140.33 808.17,1140.3 809.68,1140.27 811.2,1140.23 812.72,1140.17 814.23,1140.1 815.75,1140.01 817.27,1139.89 818.78,1139.73 820.3,1139.54 821.81,1139.29 823.33,1138.99 824.85,1138.61 826.36,1138.14 827.88,1137.56 829.39,1136.85 830.91,1135.99 832.43,1134.96 833.94,1133.71 835.46,1132.23 836.97,1130.47 838.49,1128.4 840.01,1125.98 841.52,1123.17 843.04,1119.91 844.55,1116.18 846.07,1111.93 847.59,1107.11 849.1,1101.68 850.62,1095.63 852.13,1088.9 853.65,1081.49 855.17,1073.39 856.68,1064.59 858.2,1055.1 859.71,1044.95 861.23,1034.17 862.75,1022.83 864.26,1010.99 865.78,998.73 867.29,986.17 868.81,973.41 870.33,960.58 871.84,947.83 873.36,935.31 874.88,923.17 876.39,911.56 877.91,900.66 879.42,890.62 880.94,881.58 882.46,873.68 883.97,867.05 885.49,861.78 887,857.97 888.52,855.68 890.04,854.94 891.55,855.76 893.07,858.14 894.58,862.03 896.1,867.37 897.62,874.07 899.13,882.04 900.65,891.13 902.16,901.23 903.68,912.17 905.2,923.8 906.71,935.97 908.23,948.51 909.74,961.27 911.26,974.09 912.78,986.84 914.29,999.4 915.81,1011.63 917.32,1023.45 918.84,1034.76 920.36,1045.5 921.87,1055.62 923.39,1065.07 924.91,1073.84 926.42,1081.91 927.94,1089.28 929.45,1095.97 930.97,1101.99 932.49,1107.38 934,1112.17 935.52,1116.39 937.03,1120.1 938.55,1123.33 940.07,1126.12 941.58,1128.52 943.1,1130.57 944.61,1132.31 946.13,1133.78 947.65,1135.02 949.16,1136.04 950.68,1136.89 952.19,1137.59 953.71,1138.17 955.23,1138.63 956.74,1139.01 958.26,1139.31 959.77,1139.55 961.29,1139.74 962.81,1139.89 964.32,1140.01 965.84,1140.1 967.35,1140.18 968.87,1140.23 970.39,1140.27 971.9,1140.31 973.42,1140.33 974.93,1140.35 976.45,1140.36 977.97,1140.37 979.48,1140.38 981,1140.39 982.52,1140.39 984.03,1140.39 985.55,1140.39 987.06,1140.4 L987.06,1140.4 Z" fill="#5f87e0" fill-opacity="0.6" stroke="none"/><g fill="#5f87e0" stroke="#112268" stroke-width="1.3"><rect x="802" y="1140.35" width="6.27" height="0.05"/><rect x="808.27" y="1140.22" width="6.27" height="0.18"/><rect x="814.55" y="1139.85" width="6.27" height="0.55"/><rect x="820.82" y="1138.83" width="6.27" height="1.57"/><rect x="827.09" y="1136.44" width="6.27" height="3.96"/><rect x="833.37" y="1131.15" width="6.27" height="9.25"/><rect x="839.64" y="1120.5" width="6.27" height="19.9"/><rect x="845.91" y="1102.13" width="6.27" height="38.27"/><rect x="852.19" y="1072.13" width="6.27" height="68.27"/><rect x="858.46" y="1032.45" width="6.27" height="107.95"/><rect x="864.73" y="980.21" width="6.27" height="160.19"/><rect x="871.01" y="930.44" width="6.27" height="209.96"/><rect x="877.28" y="884.77" width="6.27" height="255.63"/><rect x="883.55" y="856.81" width="6.27" height="283.59"/><rect x="889.83" y="857.62" width="6.27" height="282.78"/><rect x="896.1" y="881" width="6.27" height="259.4"/><rect x="902.37" y="925.94" width="6.27" height="214.46"/><rect x="908.65" y="980.6" width="6.27" height="159.8"/><rect x="914.92" y="1028.38" width="6.27" height="112.02"/><rect x="921.19" y="1070.67" width="6.27" height="69.73"/><rect x="927.47" y="1100.88" width="6.27" height="39.52"/><rect x="933.74" y="1119.94" width="6.27" height="20.46"/><rect x="940.01" y="1130.59" width="6.27" height="9.81"/><rect x="946.29" y="1136.21" width="6.27" height="4.19"/><rect x="952.56" y="1138.75" width="6.27" height="1.65"/><rect x="958.83" y="1139.81" width="6.27" height="0.59"/><rect x="965.11" y="1140.21" width="6.27" height="0.19"/><rect x="971.38" y="1140.34" width="6.27" height="0.06"/><rect x="977.65" y="1140.38" width="6.27" height="0.02"/><rect x="983.93" y="1140.4" width="6.27" height="0"/></g><path d="M821.81,1139.29 823.33,1138.99 824.85,1138.61 826.36,1138.14 827.88,1137.56 829.39,1136.85 830.91,1135.99 832.43,1134.96 833.94,1133.71 835.46,1132.23 836.97,1130.47 838.49,1128.4 840.01,1125.98 841.52,1123.17 843.04,1119.91 844.55,1116.18 846.07,1111.93 847.59,1107.11 849.1,1101.68 850.62,1095.63 852.13,1088.9 853.65,1081.49 855.17,1073.39 856.68,1064.59 858.2,1055.1 859.71,1044.95 861.23,1034.17 862.75,1022.83 864.26,1010.99 865.78,998.73 867.29,986.17 868.81,973.41 870.33,960.58 871.84,947.83 873.36,935.31 874.88,923.17 876.39,911.56 877.91,900.66 879.42,890.62 880.94,881.58 882.46,873.68 883.97,867.05 885.49,861.78 887,857.97 888.52,855.68 890.04,854.94 891.55,855.76 893.07,858.14 894.58,862.03 896.1,867.37 897.62,874.07 899.13,882.04 900.65,891.13 902.16,901.23 903.68,912.17 905.2,923.8 906.71,935.97 908.23,948.51 909.74,961.27 911.26,974.09 912.78,986.84 914.29,999.4 915.81,1011.63 917.32,1023.45 918.84,1034.76 920.36,1045.5 921.87,1055.62 923.39,1065.07 924.91,1073.84 926.42,1081.91 927.94,1089.28 929.45,1095.97 930.97,1101.99 932.49,1107.38 934,1112.17 935.52,1116.39 937.03,1120.1 938.55,1123.33 940.07,1126.12 941.58,1128.52 943.1,1130.57 944.61,1132.31 946.13,1133.78 947.65,1135.02 949.16,1136.04 950.68,1136.89 952.19,1137.59 953.71,1138.17 955.23,1138.63 956.74,1139.01 958.26,1139.31" fill="none" stroke="#0a0f16" stroke-width="1.6" stroke-linejoin="round"/><g stroke="#fff" stroke-width="1.65" clip-path="url(#cp21)"><line x1="802" x2="990.2" y1="1102.1" y2="1102.1" stroke-opacity="0.04"/><line x1="802" x2="990.2" y1="1025.5" y2="1025.5" stroke-opacity="0.14"/><line x1="802" x2="990.2" y1="948.9" y2="948.9" stroke-opacity="0.14"/><line x1="802" x2="990.2" y1="872.3" y2="872.3" stroke-opacity="0.11"/></g><clipPath id="cp21"><use href="#dp21"/></clipPath><line x1="802" x2="990.2" y1="1140.4" y2="1140.4" stroke="#33464f" stroke-width="1.3"/><line x1="849.98" x2="849.98" y1="820.05" y2="1155.85" stroke="#ff0000" stroke-width="3.0"/><line x1="930.01" x2="930.01" y1="820.05" y2="1155.85" stroke="#ff0000" stroke-width="3.0"/><line x1="890" x2="890" y1="820.05" y2="1155.85" stroke="#0000ff" stroke-width="3.1"/><rect x="675.05" y="820.05" width="523.8" height="335.8" fill="none" stroke="#4455c3" stroke-width="1.9"/><g stroke="#8f8f8f" stroke-width="0.85"><line x1="671.1" x2="674.1" y1="1140.4" y2="1140.4"/><line x1="671.1" x2="674.1" y1="1063.8" y2="1063.8"/><line x1="671.1" x2="674.1" y1="987.2" y2="987.2"/><line x1="671.1" x2="674.1" y1="910.6" y2="910.6"/><line x1="671.1" x2="674.1" y1="834" y2="834"/><line x1="698.15" x2="698.15" y1="1156.8" y2="1159.8"/><line x1="793.7" x2="793.7" y1="1156.8" y2="1159.8"/><line x1="889.25" x2="889.25" y1="1156.8" y2="1159.8"/><line x1="984.8" x2="984.8" y1="1156.8" y2="1159.8"/><line x1="1080.35" x2="1080.35" y1="1156.8" y2="1159.8"/><line x1="1175.9" x2="1175.9" y1="1156.8" y2="1159.8"/></g><g font-family="'Liberation Sans', Arial, Helvetica, sans-serif" font-weight="bold" font-size="23.1" fill="#000"><text x="669.5" y="1149.3" text-anchor="end">0.0</text><text x="669.5" y="1072.7" text-anchor="end">0.1</text><text x="669.5" y="996.1" text-anchor="end">0.2</text><text x="669.5" y="919.5" text-anchor="end">0.3</text><text x="669.5" y="842.9" text-anchor="end">0.4</text><text x="698.15" y="1178.9" text-anchor="middle">15</text><text x="793.7" y="1178.9" text-anchor="middle">20</text><text x="889.25" y="1178.9" text-anchor="middle">25</text><text x="984.8" y="1178.9" text-anchor="middle">30</text><text x="1080.35" y="1178.9" text-anchor="middle">35</text><text x="1175.9" y="1178.9" text-anchor="middle">40</text></g><text x="936.95" y="1202.3" text-anchor="middle" font-family="'Liberation Sans', Arial, Helvetica, sans-serif" font-size="22" fill="#111">RMSE%</text><text transform="translate(630.2 987.95) rotate(-90)" text-anchor="middle" font-family="'Liberation Sans', Arial, Helvetica, sans-serif" font-size="22" fill="#111">density</text><text transform="translate(694.3 857.3) scale(1.27 1)" font-family="'Liberation Serif', 'DejaVu Serif', serif" font-size="33.5" fill="#000">μ</text><text transform="translate(695.7 895.4) scale(1.1 1)" font-family="'Liberation Serif', 'DejaVu Serif', serif" font-size="38.5" fill="#000">σ</text><g font-family="'Liberation Sans', Arial, Helvetica, sans-serif" font-weight="bold" font-size="22.65" fill="#000"><text x="727.2" y="860.8">25.039</text><text x="728.4" y="894.4">2.094</text><text x="1095.3" y="860.6">RF</text><text x="1093.7" y="894.5">ALS</text></g><text x="1094.3" y="1131.3" font-family="'Liberation Sans', Arial, Helvetica, sans-serif" font-size="25.6" fill="#00008b">CI=95%</text></g>
<g><rect x="1273.45" y="820.05" width="523.8" height="335.8" fill="#99dae7"/><g stroke="#ffffff" stroke-width="1.3"><line x1="1296.55" x2="1296.55" y1="820.05" y2="1155.85" stroke-opacity="0.03"/><line x1="1344.33" x2="1344.33" y1="820.05" y2="1155.85" stroke-opacity="0.6"/><line x1="1392.1" x2="1392.1" y1="820.05" y2="1155.85" stroke-opacity="0.03"/><line x1="1439.88" x2="1439.88" y1="820.05" y2="1155.85" stroke-opacity="0.6"/><line x1="1487.65" x2="1487.65" y1="820.05" y2="1155.85" stroke-opacity="0.03"/><line x1="1535.42" x2="1535.42" y1="820.05" y2="1155.85" stroke-opacity="0.6"/><line x1="1583.2" x2="1583.2" y1="820.05" y2="1155.85" stroke-opacity="0.38"/><line x1="1630.97" x2="1630.97" y1="820.05" y2="1155.85" stroke-opacity="0.6"/><line x1="1678.75" x2="1678.75" y1="820.05" y2="1155.85" stroke-opacity="0.03"/><line x1="1726.52" x2="1726.52" y1="820.05" y2="1155.85" stroke-opacity="0.6"/><line x1="1774.3" x2="1774.3" y1="820.05" y2="1155.85" stroke-opacity="0.03"/></g><g stroke="#ffffff" stroke-width="1.5"><line x1="1273.45" x2="1797.25" y1="1140.4" y2="1140.4" stroke-opacity="0.38"/><line x1="1273.45" x2="1797.25" y1="1102.1" y2="1102.1" stroke-opacity="0.2"/><line x1="1273.45" x2="1797.25" y1="1063.8" y2="1063.8" stroke-opacity="0.02"/><line x1="1273.45" x2="1797.25" y1="1025.5" y2="1025.5" stroke-opacity="0.64"/><line x1="1273.45" x2="1797.25" y1="987.2" y2="987.2" stroke-opacity="0.02"/><line x1="1273.45" x2="1797.25" y1="948.9" y2="948.9" stroke-opacity="0.64"/><line x1="1273.45" x2="1797.25" y1="910.6" y2="910.6" stroke-opacity="0.02"/><line x1="1273.45" x2="1797.25" y1="872.3" y2="872.3" stroke-opacity="0.5"/><line x1="1273.45" x2="1797.25" y1="834" y2="834" stroke-opacity="0.02"/></g><path id="dp22" d="M1408.02,1140.4 L1408.02,1140.32 1409.47,1140.29 1410.93,1140.26 1412.39,1140.21 1413.84,1140.16 1415.3,1140.08 1416.76,1139.99 1418.22,1139.87 1419.67,1139.72 1421.13,1139.54 1422.59,1139.3 1424.04,1139.02 1425.5,1138.66 1426.96,1138.22 1428.42,1137.69 1429.87,1137.04 1431.33,1136.27 1432.79,1135.33 1434.25,1134.22 1435.7,1132.9 1437.16,1131.34 1438.62,1129.51 1440.07,1127.38 1441.53,1124.91 1442.99,1122.07 1444.45,1118.82 1445.9,1115.11 1447.36,1110.92 1448.82,1106.2 1450.28,1100.92 1451.73,1095.07 1453.19,1088.6 1454.65,1081.51 1456.1,1073.78 1457.56,1065.42 1459.02,1056.43 1460.48,1046.83 1461.93,1036.66 1463.39,1025.97 1464.85,1014.8 1466.31,1003.23 1467.76,991.35 1469.22,979.26 1470.68,967.05 1472.13,954.86 1473.59,942.8 1475.05,931.02 1476.51,919.64 1477.96,908.82 1479.42,898.68 1480.88,889.37 1482.33,881 1483.79,873.7 1485.25,867.56 1486.71,862.69 1488.16,859.15 1489.62,856.99 1491.08,856.25 1492.54,856.93 1493.99,859.03 1495.45,862.52 1496.91,867.33 1498.36,873.41 1499.82,880.67 1501.28,888.99 1502.74,898.27 1504.19,908.38 1505.65,919.17 1507.11,930.53 1508.57,942.3 1510.02,954.35 1511.48,966.54 1512.94,978.74 1514.39,990.85 1515.85,1002.74 1517.31,1014.32 1518.77,1025.51 1520.22,1036.22 1521.68,1046.42 1523.14,1056.04 1524.6,1065.05 1526.05,1073.44 1527.51,1081.2 1528.97,1088.31 1530.42,1094.81 1531.88,1100.69 1533.34,1105.99 1534.8,1110.73 1536.25,1114.94 1537.71,1118.67 1539.17,1121.94 1540.62,1124.8 1542.08,1127.29 1543.54,1129.43 1545,1131.27 1546.45,1132.84 1547.91,1134.17 1549.37,1135.29 1550.83,1136.23 1552.28,1137.01 1553.74,1137.67 1555.2,1138.2 1556.65,1138.64 1558.11,1139 1559.57,1139.29 1561.03,1139.53 1562.48,1139.72 1563.94,1139.87 1565.4,1139.99 1566.86,1140.08 1568.31,1140.15 1569.77,1140.21 1571.23,1140.26 1572.68,1140.29 1574.14,1140.32 1575.6,1140.34 1577.06,1140.35 1578.51,1140.37 1579.97,1140.38 1581.43,1140.38 1582.88,1140.39 L1582.88,1140.4 Z" fill="#5f87e0" fill-opacity="0.6" stroke="none"/><g fill="#5f87e0" stroke="#112268" stroke-width="1.3"><rect x="1405" y="1140.32" width="6.03" height="0.08"/><rect x="1411.03" y="1140.15" width="6.03" height="0.25"/><rect x="1417.06" y="1139.67" width="6.03" height="0.73"/><rect x="1423.09" y="1138.51" width="6.03" height="1.89"/><rect x="1429.12" y="1135.78" width="6.03" height="4.62"/><rect x="1435.15" y="1130.16" width="6.03" height="10.24"/><rect x="1441.18" y="1119.46" width="6.03" height="20.94"/><rect x="1447.21" y="1101.55" width="6.03" height="38.85"/><rect x="1453.24" y="1073.61" width="6.03" height="66.79"/><rect x="1459.27" y="1034.58" width="6.03" height="105.82"/><rect x="1465.3" y="988.19" width="6.03" height="152.21"/><rect x="1471.33" y="937.48" width="6.03" height="202.92"/><rect x="1477.36" y="895.81" width="6.03" height="244.59"/><rect x="1483.39" y="866.95" width="6.03" height="273.45"/><rect x="1489.42" y="856.38" width="6.03" height="284.02"/><rect x="1495.45" y="875.14" width="6.03" height="265.26"/><rect x="1501.48" y="911.18" width="6.03" height="229.22"/><rect x="1507.51" y="958.15" width="6.03" height="182.25"/><rect x="1513.54" y="1009.18" width="6.03" height="131.22"/><rect x="1519.57" y="1053.58" width="6.03" height="86.82"/><rect x="1525.6" y="1086.48" width="6.03" height="53.92"/><rect x="1531.63" y="1110.29" width="6.03" height="30.11"/><rect x="1537.66" y="1124.89" width="6.03" height="15.51"/><rect x="1543.69" y="1133.08" width="6.03" height="7.32"/><rect x="1549.72" y="1137.21" width="6.03" height="3.19"/><rect x="1555.75" y="1139.15" width="6.03" height="1.25"/><rect x="1561.78" y="1139.94" width="6.03" height="0.46"/><rect x="1567.81" y="1140.25" width="6.03" height="0.15"/><rect x="1573.84" y="1140.35" width="6.03" height="0.05"/><rect x="1579.87" y="1140.39" width="6.03" height="0.01"/></g><path d="M1422.59,1139.3 1424.04,1139.02 1425.5,1138.66 1426.96,1138.22 1428.42,1137.69 1429.87,1137.04 1431.33,1136.27 1432.79,1135.33 1434.25,1134.22 1435.7,1132.9 1437.16,1131.34 1438.62,1129.51 1440.07,1127.38 1441.53,1124.91 1442.99,1122.07 1444.45,1118.82 1445.9,1115.11 1447.36,1110.92 1448.82,1106.2 1450.28,1100.92 1451.73,1095.07 1453.19,1088.6 1454.65,1081.51 1456.1,1073.78 1457.56,1065.42 1459.02,1056.43 1460.48,1046.83 1461.93,1036.66 1463.39,1025.97 1464.85,1014.8 1466.31,1003.23 1467.76,991.35 1469.22,979.26 1470.68,967.05 1472.13,954.86 1473.59,942.8 1475.05,931.02 1476.51,919.64 1477.96,908.82 1479.42,898.68 1480.88,889.37 1482.33,881 1483.79,873.7 1485.25,867.56 1486.71,862.69 1488.16,859.15 1489.62,856.99 1491.08,856.25 1492.54,856.93 1493.99,859.03 1495.45,862.52 1496.91,867.33 1498.36,873.41 1499.82,880.67 1501.28,888.99 1502.74,898.27 1504.19,908.38 1505.65,919.17 1507.11,930.53 1508.57,942.3 1510.02,954.35 1511.48,966.54 1512.94,978.74 1514.39,990.85 1515.85,1002.74 1517.31,1014.32 1518.77,1025.51 1520.22,1036.22 1521.68,1046.42 1523.14,1056.04 1524.6,1065.05 1526.05,1073.44 1527.51,1081.2 1528.97,1088.31 1530.42,1094.81 1531.88,1100.69 1533.34,1105.99 1534.8,1110.73 1536.25,1114.94 1537.71,1118.67 1539.17,1121.94 1540.62,1124.8 1542.08,1127.29 1543.54,1129.43 1545,1131.27 1546.45,1132.84 1547.91,1134.17 1549.37,1135.29 1550.83,1136.23 1552.28,1137.01 1553.74,1137.67 1555.2,1138.2 1556.65,1138.64 1558.11,1139 1559.57,1139.29" fill="none" stroke="#0a0f16" stroke-width="1.6" stroke-linejoin="round"/><g stroke="#fff" stroke-width="1.65" clip-path="url(#cp22)"><line x1="1405" x2="1585.9" y1="1102.1" y2="1102.1" stroke-opacity="0.04"/><line x1="1405" x2="1585.9" y1="1025.5" y2="1025.5" stroke-opacity="0.14"/><line x1="1405" x2="1585.9" y1="948.9" y2="948.9" stroke-opacity="0.14"/><line x1="1405" x2="1585.9" y1="872.3" y2="872.3" stroke-opacity="0.11"/></g><clipPath id="cp22"><use href="#dp22"/></clipPath><line x1="1405" x2="1585.9" y1="1140.4" y2="1140.4" stroke="#33464f" stroke-width="1.3"/><line x1="1451.15" x2="1451.15" y1="820.05" y2="1155.85" stroke="#ff0000" stroke-width="3.0"/><line x1="1531.07" x2="1531.07" y1="820.05" y2="1155.85" stroke="#ff0000" stroke-width="3.0"/><line x1="1491.11" x2="1491.11" y1="820.05" y2="1155.85" stroke="#0000ff" stroke-width="3.1"/><rect x="1273.45" y="820.05" width="523.8" height="335.8" fill="none" stroke="#4455c3" stroke-width="1.9"/><g stroke="#8f8f8f" stroke-width="0.85"><line x1="1269.5" x2="1272.5" y1="1140.4" y2="1140.4"/><line x1="1269.5" x2="1272.5" y1="1063.8" y2="1063.8"/><line x1="1269.5" x2="1272.5" y1="987.2" y2="987.2"/><line x1="1269.5" x2="1272.5" y1="910.6" y2="910.6"/><line x1="1269.5" x2="1272.5" y1="834" y2="834"/><line x1="1296.55" x2="1296.55" y1="1156.8" y2="1159.8"/><line x1="1392.1" x2="1392.1" y1="1156.8" y2="1159.8"/><line x1="1487.65" x2="1487.65" y1="1156.8" y2="1159.8"/><line x1="1583.2" x2="1583.2" y1="1156.8" y2="1159.8"/><line x1="1678.75" x2="1678.75" y1="1156.8" y2="1159.8"/><line x1="1774.3" x2="1774.3" y1="1156.8" y2="1159.8"/></g><g font-family="'Liberation Sans', Arial, Helvetica, sans-serif" font-weight="bold" font-size="23.1" fill="#000"><text x="1267.9" y="1149.3" text-anchor="end">0.0</text><text x="1267.9" y="1072.7" text-anchor="end">0.1</text><text x="1267.9" y="996.1" text-anchor="end">0.2</text><text x="1267.9" y="919.5" text-anchor="end">0.3</text><text x="1267.9" y="842.9" text-anchor="end">0.4</text><text x="1296.55" y="1178.9" text-anchor="middle">15</text><text x="1392.1" y="1178.9" text-anchor="middle">20</text><text x="1487.65" y="1178.9" text-anchor="middle">25</text><text x="1583.2" y="1178.9" text-anchor="middle">30</text><text x="1678.75" y="1178.9" text-anchor="middle">35</text><text x="1774.3" y="1178.9" text-anchor="middle">40</text></g><text x="1535.35" y="1202.3" text-anchor="middle" font-family="'Liberation Sans', Arial, Helvetica, sans-serif" font-size="22" fill="#111">RMSE%</text><text transform="translate(1228.8 987.95) rotate(-90)" text-anchor="middle" font-family="'Liberation Sans', Arial, Helvetica, sans-serif" font-size="22" fill="#111">density</text><text transform="translate(1292.7 857.3) scale(1.27 1)" font-family="'Liberation Serif', 'DejaVu Serif', serif" font-size="33.5" fill="#000">μ</text><text transform="translate(1294.1 895.4) scale(1.1 1)" font-family="'Liberation Serif', 'DejaVu Serif', serif" font-size="38.5" fill="#000">σ</text><g font-family="'Liberation Sans', Arial, Helvetica, sans-serif" font-weight="bold" font-size="22.65" fill="#000"><text x="1325.6" y="860.8">25.181</text><text x="1326.8" y="894.4">2.091</text><text x="1693.7" y="860.4">RF</text><text x="1693.7" y="891.2">Landsat</text><text x="1692.1" y="923.9">ALS</text></g><text x="1692.7" y="1131.3" font-family="'Liberation Sans', Arial, Helvetica, sans-serif" font-size="25.6" fill="#00008b">CI=95%</text></g>
<g><rect x="76.15" y="1219.45" width="523.8" height="336.2" fill="#99dae7"/><g stroke="#ffffff" stroke-width="1.3"><line x1="99.25" x2="99.25" y1="1219.45" y2="1555.65" stroke-opacity="0.03"/><line x1="147.03" x2="147.03" y1="1219.45" y2="1555.65" stroke-opacity="0.6"/><line x1="194.8" x2="194.8" y1="1219.45" y2="1555.65" stroke-opacity="0.03"/><line x1="242.57" x2="242.57" y1="1219.45" y2="1555.65" stroke-opacity="0.6"/><line x1="290.35" x2="290.35" y1="1219.45" y2="1555.65" stroke-opacity="0.38"/><line x1="338.12" x2="338.12" y1="1219.45" y2="1555.65" stroke-opacity="0.6"/><line x1="385.9" x2="385.9" y1="1219.45" y2="1555.65" stroke-opacity="0.38"/><line x1="433.68" x2="433.68" y1="1219.45" y2="1555.65" stroke-opacity="0.6"/><line x1="481.45" x2="481.45" y1="1219.45" y2="1555.65" stroke-opacity="0.2"/><line x1="529.22" x2="529.22" y1="1219.45" y2="1555.65" stroke-opacity="0.6"/><line x1="577" x2="577" y1="1219.45" y2="1555.65" stroke-opacity="0.03"/></g><g stroke="#ffffff" stroke-width="1.5"><line x1="76.15" x2="599.95" y1="1540.8" y2="1540.8" stroke-opacity="0.02"/><line x1="76.15" x2="599.95" y1="1502.44" y2="1502.44" stroke-opacity="0.64"/><line x1="76.15" x2="599.95" y1="1464.08" y2="1464.08" stroke-opacity="0.02"/><line x1="76.15" x2="599.95" y1="1425.71" y2="1425.71" stroke-opacity="0.64"/><line x1="76.15" x2="599.95" y1="1387.35" y2="1387.35" stroke-opacity="0.02"/><line x1="76.15" x2="599.95" y1="1348.99" y2="1348.99" stroke-opacity="0.64"/><line x1="76.15" x2="599.95" y1="1310.62" y2="1310.62" stroke-opacity="0.02"/><line x1="76.15" x2="599.95" y1="1272.26" y2="1272.26" stroke-opacity="0.38"/><line x1="76.15" x2="599.95" y1="1233.9" y2="1233.9" stroke-opacity="0.2"/></g><path id="dp30" d="M334.31,1540.8 L334.31,1540.78 335.66,1540.77 337.02,1540.77 338.37,1540.75 339.73,1540.74 341.08,1540.72 342.44,1540.69 343.8,1540.65 345.15,1540.61 346.51,1540.55 347.86,1540.47 349.22,1540.37 350.57,1540.25 351.93,1540.09 353.29,1539.9 354.64,1539.65 356,1539.35 357.35,1538.97 358.71,1538.51 360.06,1537.94 361.42,1537.26 362.78,1536.43 364.13,1535.44 365.49,1534.26 366.84,1532.85 368.2,1531.19 369.55,1529.24 370.91,1526.97 372.27,1524.33 373.62,1521.29 374.98,1517.81 376.33,1513.84 377.69,1509.34 379.04,1504.28 380.4,1498.61 381.76,1492.32 383.11,1485.36 384.47,1477.73 385.82,1469.41 387.18,1460.4 388.54,1450.71 389.89,1440.36 391.25,1429.39 392.6,1417.84 393.96,1405.77 395.31,1393.27 396.67,1380.43 398.03,1367.34 399.38,1354.13 400.74,1340.93 402.09,1327.88 403.45,1315.12 404.8,1302.79 406.16,1291.06 407.52,1280.08 408.87,1269.98 410.23,1260.91 411.58,1252.99 412.94,1246.34 414.29,1241.06 415.65,1237.22 417.01,1234.88 418.36,1234.08 419.72,1234.82 421.07,1237.1 422.43,1240.89 423.78,1246.12 425.14,1252.72 426.5,1260.59 427.85,1269.62 429.21,1279.68 430.56,1290.64 431.92,1302.34 433.27,1314.64 434.63,1327.39 435.99,1340.44 437.34,1353.64 438.7,1366.85 440.05,1379.94 441.41,1392.79 442.77,1405.31 444.12,1417.39 445.48,1428.96 446.83,1439.96 448.19,1450.34 449.54,1460.05 450.9,1469.09 452.26,1477.43 453.61,1485.09 454.97,1492.07 456.32,1498.39 457.68,1504.07 459.03,1509.16 460.39,1513.68 461.75,1517.67 463.1,1521.17 464.46,1524.22 465.81,1526.88 467.17,1529.16 468.52,1531.12 469.88,1532.79 471.24,1534.21 472.59,1535.4 473.95,1536.4 475.3,1537.23 476.66,1537.92 478.01,1538.49 479.37,1538.95 480.73,1539.33 482.08,1539.64 483.44,1539.89 484.79,1540.09 486.15,1540.24 487.5,1540.37 488.86,1540.47 490.22,1540.55 491.57,1540.61 492.93,1540.65 494.28,1540.69 495.64,1540.72 497,1540.74 L497,1540.8 Z" fill="#5f87e0" fill-opacity="0.6" stroke="none"/><g fill="#5f87e0" stroke="#112268" stroke-width="1.3"><rect x="331.5" y="1540.78" width="5.61" height="0.02"/><rect x="337.11" y="1540.74" width="5.61" height="0.06"/><rect x="342.72" y="1540.59" width="5.61" height="0.21"/><rect x="348.33" y="1540.19" width="5.61" height="0.61"/><rect x="353.94" y="1539.17" width="5.61" height="1.63"/><rect x="359.55" y="1536.75" width="5.61" height="4.05"/><rect x="365.16" y="1531.58" width="5.61" height="9.22"/><rect x="370.77" y="1521.35" width="5.61" height="19.45"/><rect x="376.38" y="1504.12" width="5.61" height="36.68"/><rect x="381.99" y="1475.64" width="5.61" height="65.16"/><rect x="387.6" y="1436.21" width="5.61" height="104.59"/><rect x="393.21" y="1388.36" width="5.61" height="152.44"/><rect x="398.82" y="1332.82" width="5.61" height="207.98"/><rect x="404.43" y="1283.36" width="5.61" height="257.44"/><rect x="410.04" y="1248.21" width="5.61" height="292.59"/><rect x="415.65" y="1231.65" width="5.61" height="309.15"/><rect x="421.26" y="1250.88" width="5.61" height="289.92"/><rect x="426.87" y="1286.85" width="5.61" height="253.95"/><rect x="432.48" y="1332.28" width="5.61" height="208.52"/><rect x="438.09" y="1388.74" width="5.61" height="152.06"/><rect x="443.7" y="1438.36" width="5.61" height="102.44"/><rect x="449.31" y="1477.03" width="5.61" height="63.77"/><rect x="454.92" y="1504.48" width="5.61" height="36.32"/><rect x="460.53" y="1521.59" width="5.61" height="19.21"/><rect x="466.14" y="1531.75" width="5.61" height="9.05"/><rect x="471.75" y="1536.83" width="5.61" height="3.97"/><rect x="477.36" y="1539.19" width="5.61" height="1.61"/><rect x="482.97" y="1540.21" width="5.61" height="0.59"/><rect x="488.58" y="1540.6" width="5.61" height="0.2"/><rect x="494.19" y="1540.74" width="5.61" height="0.06"/></g><path d="M353.29,1539.9 354.64,1539.65 356,1539.35 357.35,1538.97 358.71,1538.51 360.06,1537.94 361.42,1537.26 362.78,1536.43 364.13,1535.44 365.49,1534.26 366.84,1532.85 368.2,1531.19 369.55,1529.24 370.91,1526.97 372.27,1524.33 373.62,1521.29 374.98,1517.81 376.33,1513.84 377.69,1509.34 379.04,1504.28 380.4,1498.61 381.76,1492.32 383.11,1485.36 384.47,1477.73 385.82,1469.41 387.18,1460.4 388.54,1450.71 389.89,1440.36 391.25,1429.39 392.6,1417.84 393.96,1405.77 395.31,1393.27 396.67,1380.43 398.03,1367.34 399.38,1354.13 400.74,1340.93 402.09,1327.88 403.45,1315.12 404.8,1302.79 406.16,1291.06 407.52,1280.08 408.87,1269.98 410.23,1260.91 411.58,1252.99 412.94,1246.34 414.29,1241.06 415.65,1237.22 417.01,1234.88 418.36,1234.08 419.72,1234.82 421.07,1237.1 422.43,1240.89 423.78,1246.12 425.14,1252.72 426.5,1260.59 427.85,1269.62 429.21,1279.68 430.56,1290.64 431.92,1302.34 433.27,1314.64 434.63,1327.39 435.99,1340.44 437.34,1353.64 438.7,1366.85 440.05,1379.94 441.41,1392.79 442.77,1405.31 444.12,1417.39 445.48,1428.96 446.83,1439.96 448.19,1450.34 449.54,1460.05 450.9,1469.09 452.26,1477.43 453.61,1485.09 454.97,1492.07 456.32,1498.39 457.68,1504.07 459.03,1509.16 460.39,1513.68 461.75,1517.67 463.1,1521.17 464.46,1524.22 465.81,1526.88 467.17,1529.16 468.52,1531.12 469.88,1532.79 471.24,1534.21 472.59,1535.4 473.95,1536.4 475.3,1537.23 476.66,1537.92 478.01,1538.49 479.37,1538.95 480.73,1539.33 482.08,1539.64 483.44,1539.89" fill="none" stroke="#0a0f16" stroke-width="1.6" stroke-linejoin="round"/><g stroke="#fff" stroke-width="1.65" clip-path="url(#cp30)"><line x1="331.5" x2="499.8" y1="1502.44" y2="1502.44" stroke-opacity="0.14"/><line x1="331.5" x2="499.8" y1="1425.71" y2="1425.71" stroke-opacity="0.14"/><line x1="331.5" x2="499.8" y1="1348.99" y2="1348.99" stroke-opacity="0.14"/><line x1="331.5" x2="499.8" y1="1272.26" y2="1272.26" stroke-opacity="0.08"/><line x1="331.5" x2="499.8" y1="1233.9" y2="1233.9" stroke-opacity="0.04"/></g><clipPath id="cp30"><use href="#dp30"/></clipPath><line x1="331.5" x2="499.8" y1="1540.8" y2="1540.8" stroke="#3f5560" stroke-width="1.2"/><line x1="381.91" x2="381.91" y1="1219.45" y2="1555.65" stroke="#ff0000" stroke-width="2.6"/><line x1="454.87" x2="454.87" y1="1219.45" y2="1555.65" stroke="#ff0000" stroke-width="2.6"/><line x1="418.39" x2="418.39" y1="1219.45" y2="1555.65" stroke="#0000ff" stroke-width="2.9"/><rect x="76.15" y="1219.45" width="523.8" height="336.2" fill="none" stroke="#4455c3" stroke-width="1.9"/><g stroke="#8f8f8f" stroke-width="0.85"><line x1="72.2" x2="75.2" y1="1540.8" y2="1540.8"/><line x1="72.2" x2="75.2" y1="1464.08" y2="1464.08"/><line x1="72.2" x2="75.2" y1="1387.35" y2="1387.35"/><line x1="72.2" x2="75.2" y1="1310.62" y2="1310.62"/><line x1="72.2" x2="75.2" y1="1233.9" y2="1233.9"/><line x1="99.25" x2="99.25" y1="1556.6" y2="1559.6"/><line x1="194.8" x2="194.8" y1="1556.6" y2="1559.6"/><line x1="290.35" x2="290.35" y1="1556.6" y2="1559.6"/><line x1="385.9" x2="385.9" y1="1556.6" y2="1559.6"/><line x1="481.45" x2="481.45" y1="1556.6" y2="1559.6"/><line x1="577" x2="577" y1="1556.6" y2="1559.6"/></g><g font-family="'Liberation Sans', Arial, Helvetica, sans-serif" font-weight="bold" font-size="23.1" fill="#000"><text x="70.6" y="1549.7" text-anchor="end">0.0</text><text x="70.6" y="1472.98" text-anchor="end">0.1</text><text x="70.6" y="1396.25" text-anchor="end">0.2</text><text x="70.6" y="1319.53" text-anchor="end">0.3</text><text x="70.6" y="1242.8" text-anchor="end">0.4</text><text x="99.25" y="1578.7" text-anchor="middle">15</text><text x="194.8" y="1578.7" text-anchor="middle">20</text><text x="290.35" y="1578.7" text-anchor="middle">25</text><text x="385.9" y="1578.7" text-anchor="middle">30</text><text x="481.45" y="1578.7" text-anchor="middle">35</text><text x="577" y="1578.7" text-anchor="middle">40</text></g><text x="338.05" y="1602.1" text-anchor="middle" font-family="'Liberation Sans', Arial, Helvetica, sans-serif" font-size="22" fill="#111">RMSE%</text><text transform="translate(32.3 1387.55) rotate(-90)" text-anchor="middle" font-family="'Liberation Sans', Arial, Helvetica, sans-serif" font-size="22" fill="#111">density</text><text transform="translate(95.4 1257.2) scale(1.27 1)" font-family="'Liberation Serif', 'DejaVu Serif', serif" font-size="33.5" fill="#000">μ</text><text transform="translate(96.8 1295.3) scale(1.1 1)" font-family="'Liberation Serif', 'DejaVu Serif', serif" font-size="38.5" fill="#000">σ</text><g font-family="'Liberation Sans', Arial, Helvetica, sans-serif" font-weight="bold" font-size="22.65" fill="#000"><text x="128.3" y="1260.7">31.7</text><text x="129.5" y="1294.3">1.909</text><text x="496.4" y="1260.5">DL</text><text x="496.4" y="1294.4">Landsat</text></g><text x="495.4" y="1531.7" font-family="'Liberation Sans', Arial, Helvetica, sans-serif" font-size="25.6" fill="#00008b">CI=95%</text></g>
<g><rect x="675.05" y="1219.45" width="523.8" height="336.2" fill="#99dae7"/><g stroke="#ffffff" stroke-width="1.3"><line x1="698.15" x2="698.15" y1="1219.45" y2="1555.65" stroke-opacity="0.03"/><line x1="745.92" x2="745.92" y1="1219.45" y2="1555.65" stroke-opacity="0.6"/><line x1="793.7" x2="793.7" y1="1219.45" y2="1555.65" stroke-opacity="0.03"/><line x1="841.47" x2="841.47" y1="1219.45" y2="1555.65" stroke-opacity="0.6"/><line x1="889.25" x2="889.25" y1="1219.45" y2="1555.65" stroke-opacity="0.03"/><line x1="937.02" x2="937.02" y1="1219.45" y2="1555.65" stroke-opacity="0.6"/><line x1="984.8" x2="984.8" y1="1219.45" y2="1555.65" stroke-opacity="0.38"/><line x1="1032.58" x2="1032.58" y1="1219.45" y2="1555.65" stroke-opacity="0.6"/><line x1="1080.35" x2="1080.35" y1="1219.45" y2="1555.65" stroke-opacity="0.03"/><line x1="1128.12" x2="1128.12" y1="1219.45" y2="1555.65" stroke-opacity="0.6"/><line x1="1175.9" x2="1175.9" y1="1219.45" y2="1555.65" stroke-opacity="0.03"/></g><g stroke="#ffffff" stroke-width="1.5"><line x1="675.05" x2="1198.85" y1="1540.8" y2="1540.8" stroke-opacity="0.02"/><line x1="675.05" x2="1198.85" y1="1502.44" y2="1502.44" stroke-opacity="0.64"/><line x1="675.05" x2="1198.85" y1="1464.08" y2="1464.08" stroke-opacity="0.02"/><line x1="675.05" x2="1198.85" y1="1425.71" y2="1425.71" stroke-opacity="0.64"/><line x1="675.05" x2="1198.85" y1="1387.35" y2="1387.35" stroke-opacity="0.02"/><line x1="675.05" x2="1198.85" y1="1348.99" y2="1348.99" stroke-opacity="0.64"/><line x1="675.05" x2="1198.85" y1="1310.62" y2="1310.62" stroke-opacity="0.02"/><line x1="675.05" x2="1198.85" y1="1272.26" y2="1272.26" stroke-opacity="0.38"/><line x1="675.05" x2="1198.85" y1="1233.9" y2="1233.9" stroke-opacity="0.2"/></g><path id="dp31" d="M794.98,1540.8 L794.98,1540.72 796.37,1540.69 797.77,1540.65 799.16,1540.61 800.55,1540.55 801.95,1540.48 803.34,1540.39 804.73,1540.27 806.12,1540.12 807.52,1539.94 808.91,1539.71 810.3,1539.43 811.7,1539.08 813.09,1538.66 814.48,1538.14 815.87,1537.52 817.27,1536.77 818.66,1535.87 820.05,1534.8 821.44,1533.53 822.84,1532.04 824.23,1530.3 825.62,1528.26 827.02,1525.91 828.41,1523.2 829.8,1520.1 831.19,1516.57 832.59,1512.57 833.98,1508.07 835.37,1503.04 836.77,1497.44 838.16,1491.26 839.55,1484.46 840.94,1477.04 842.34,1469 843.73,1460.32 845.12,1451.04 846.52,1441.16 847.91,1430.73 849.3,1419.8 850.69,1408.42 852.09,1396.68 853.48,1384.64 854.87,1372.42 856.27,1360.11 857.66,1347.84 859.05,1335.74 860.44,1323.92 861.84,1312.53 863.23,1301.69 864.62,1291.55 866.01,1282.24 867.41,1273.87 868.8,1266.55 870.19,1260.4 871.59,1255.49 872.98,1251.89 874.37,1249.66 875.76,1248.83 877.16,1249.4 878.55,1251.38 879.94,1254.73 881.34,1259.4 882.73,1265.34 884.12,1272.44 885.51,1280.63 886.91,1289.78 888.3,1299.78 889.69,1310.49 891.09,1321.79 892.48,1333.54 893.87,1345.61 895.26,1357.86 896.66,1370.16 898.05,1382.41 899.44,1394.49 900.83,1406.3 902.23,1417.75 903.62,1428.77 905.01,1439.29 906.41,1449.27 907.8,1458.66 909.19,1467.45 910.58,1475.61 911.98,1483.15 913.37,1490.06 914.76,1496.35 916.16,1502.06 917.55,1507.19 918.94,1511.78 920.33,1515.87 921.73,1519.49 923.12,1522.66 924.51,1525.44 925.91,1527.86 927.3,1529.95 928.69,1531.74 930.08,1533.28 931.48,1534.58 932.87,1535.68 934.26,1536.61 935.66,1537.39 937.05,1538.03 938.44,1538.57 939.83,1539.01 941.23,1539.37 942.62,1539.66 944.01,1539.9 945.4,1540.09 946.8,1540.24 948.19,1540.37 949.58,1540.46 950.98,1540.54 952.37,1540.6 953.76,1540.65 955.15,1540.68 956.55,1540.71 957.94,1540.73 959.33,1540.75 960.73,1540.76 962.12,1540.77 L962.12,1540.8 Z" fill="#5f87e0" fill-opacity="0.6" stroke="none"/><g fill="#5f87e0" stroke="#112268" stroke-width="1.3"><rect x="792.1" y="1540.72" width="5.76" height="0.08"/><rect x="797.86" y="1540.55" width="5.76" height="0.25"/><rect x="803.63" y="1540.08" width="5.76" height="0.72"/><rect x="809.39" y="1538.9" width="5.76" height="1.9"/><rect x="815.15" y="1536.3" width="5.76" height="4.5"/><rect x="820.92" y="1530.85" width="5.76" height="9.95"/><rect x="826.68" y="1520.9" width="5.76" height="19.9"/><rect x="832.44" y="1503.33" width="5.76" height="37.47"/><rect x="838.21" y="1475.95" width="5.76" height="64.85"/><rect x="843.97" y="1438.95" width="5.76" height="101.85"/><rect x="849.73" y="1391.13" width="5.76" height="149.67"/><rect x="855.5" y="1340.48" width="5.76" height="200.32"/><rect x="861.26" y="1296.4" width="5.76" height="244.4"/><rect x="867.02" y="1265.48" width="5.76" height="275.32"/><rect x="872.79" y="1248.08" width="5.76" height="292.72"/><rect x="878.55" y="1262.93" width="5.76" height="277.87"/><rect x="884.31" y="1295.22" width="5.76" height="245.58"/><rect x="890.08" y="1337.25" width="5.76" height="203.55"/><rect x="895.84" y="1387.58" width="5.76" height="153.22"/><rect x="901.6" y="1434.89" width="5.76" height="105.91"/><rect x="907.37" y="1473.23" width="5.76" height="67.57"/><rect x="913.13" y="1501.87" width="5.76" height="38.93"/><rect x="918.89" y="1519.86" width="5.76" height="20.94"/><rect x="924.66" y="1530.4" width="5.76" height="10.4"/><rect x="930.42" y="1535.95" width="5.76" height="4.85"/><rect x="936.18" y="1538.8" width="5.76" height="2"/><rect x="941.95" y="1540.02" width="5.76" height="0.78"/><rect x="947.71" y="1540.52" width="5.76" height="0.28"/><rect x="953.47" y="1540.71" width="5.76" height="0.09"/><rect x="959.24" y="1540.77" width="5.76" height="0.03"/></g><path d="M808.91,1539.71 810.3,1539.43 811.7,1539.08 813.09,1538.66 814.48,1538.14 815.87,1537.52 817.27,1536.77 818.66,1535.87 820.05,1534.8 821.44,1533.53 822.84,1532.04 824.23,1530.3 825.62,1528.26 827.02,1525.91 828.41,1523.2 829.8,1520.1 831.19,1516.57 832.59,1512.57 833.98,1508.07 835.37,1503.04 836.77,1497.44 838.16,1491.26 839.55,1484.46 840.94,1477.04 842.34,1469 843.73,1460.32 845.12,1451.04 846.52,1441.16 847.91,1430.73 849.3,1419.8 850.69,1408.42 852.09,1396.68 853.48,1384.64 854.87,1372.42 856.27,1360.11 857.66,1347.84 859.05,1335.74 860.44,1323.92 861.84,1312.53 863.23,1301.69 864.62,1291.55 866.01,1282.24 867.41,1273.87 868.8,1266.55 870.19,1260.4 871.59,1255.49 872.98,1251.89 874.37,1249.66 875.76,1248.83 877.16,1249.4 878.55,1251.38 879.94,1254.73 881.34,1259.4 882.73,1265.34 884.12,1272.44 885.51,1280.63 886.91,1289.78 888.3,1299.78 889.69,1310.49 891.09,1321.79 892.48,1333.54 893.87,1345.61 895.26,1357.86 896.66,1370.16 898.05,1382.41 899.44,1394.49 900.83,1406.3 902.23,1417.75 903.62,1428.77 905.01,1439.29 906.41,1449.27 907.8,1458.66 909.19,1467.45 910.58,1475.61 911.98,1483.15 913.37,1490.06 914.76,1496.35 916.16,1502.06 917.55,1507.19 918.94,1511.78 920.33,1515.87 921.73,1519.49 923.12,1522.66 924.51,1525.44 925.91,1527.86 927.3,1529.95 928.69,1531.74 930.08,1533.28 931.48,1534.58 932.87,1535.68 934.26,1536.61 935.66,1537.39 937.05,1538.03 938.44,1538.57 939.83,1539.01 941.23,1539.37 942.62,1539.66 944.01,1539.9" fill="none" stroke="#0a0f16" stroke-width="1.6" stroke-linejoin="round"/><g stroke="#fff" stroke-width="1.65" clip-path="url(#cp31)"><line x1="792.1" x2="965" y1="1502.44" y2="1502.44" stroke-opacity="0.14"/><line x1="792.1" x2="965" y1="1425.71" y2="1425.71" stroke-opacity="0.14"/><line x1="792.1" x2="965" y1="1348.99" y2="1348.99" stroke-opacity="0.14"/><line x1="792.1" x2="965" y1="1272.26" y2="1272.26" stroke-opacity="0.08"/><line x1="792.1" x2="965" y1="1233.9" y2="1233.9" stroke-opacity="0.04"/></g><clipPath id="cp31"><use href="#dp31"/></clipPath><line x1="792.1" x2="965" y1="1540.8" y2="1540.8" stroke="#3f5560" stroke-width="1.2"/><line x1="837.14" x2="837.14" y1="1219.45" y2="1555.65" stroke="#ff0000" stroke-width="2.6"/><line x1="914.65" x2="914.65" y1="1219.45" y2="1555.65" stroke="#ff0000" stroke-width="2.6"/><line x1="875.89" x2="875.89" y1="1219.45" y2="1555.65" stroke="#0000ff" stroke-width="2.9"/><rect x="675.05" y="1219.45" width="523.8" height="336.2" fill="none" stroke="#4455c3" stroke-width="1.9"/><g stroke="#8f8f8f" stroke-width="0.85"><line x1="671.1" x2="674.1" y1="1540.8" y2="1540.8"/><line x1="671.1" x2="674.1" y1="1464.08" y2="1464.08"/><line x1="671.1" x2="674.1" y1="1387.35" y2="1387.35"/><line x1="671.1" x2="674.1" y1="1310.62" y2="1310.62"/><line x1="671.1" x2="674.1" y1="1233.9" y2="1233.9"/><line x1="698.15" x2="698.15" y1="1556.6" y2="1559.6"/><line x1="793.7" x2="793.7" y1="1556.6" y2="1559.6"/><line x1="889.25" x2="889.25" y1="1556.6" y2="1559.6"/><line x1="984.8" x2="984.8" y1="1556.6" y2="1559.6"/><line x1="1080.35" x2="1080.35" y1="1556.6" y2="1559.6"/><line x1="1175.9" x2="1175.9" y1="1556.6" y2="1559.6"/></g><g font-family="'Liberation Sans', Arial, Helvetica, sans-serif" font-weight="bold" font-size="23.1" fill="#000"><text x="669.5" y="1549.7" text-anchor="end">0.0</text><text x="669.5" y="1472.98" text-anchor="end">0.1</text><text x="669.5" y="1396.25" text-anchor="end">0.2</text><text x="669.5" y="1319.53" text-anchor="end">0.3</text><text x="669.5" y="1242.8" text-anchor="end">0.4</text><text x="698.15" y="1578.7" text-anchor="middle">15</text><text x="793.7" y="1578.7" text-anchor="middle">20</text><text x="889.25" y="1578.7" text-anchor="middle">25</text><text x="984.8" y="1578.7" text-anchor="middle">30</text><text x="1080.35" y="1578.7" text-anchor="middle">35</text><text x="1175.9" y="1578.7" text-anchor="middle">40</text></g><text x="936.95" y="1602.1" text-anchor="middle" font-family="'Liberation Sans', Arial, Helvetica, sans-serif" font-size="22" fill="#111">RMSE%</text><text transform="translate(630.2 1387.55) rotate(-90)" text-anchor="middle" font-family="'Liberation Sans', Arial, Helvetica, sans-serif" font-size="22" fill="#111">density</text><text transform="translate(694.3 1257.2) scale(1.27 1)" font-family="'Liberation Serif', 'DejaVu Serif', serif" font-size="33.5" fill="#000">μ</text><text transform="translate(695.7 1295.3) scale(1.1 1)" font-family="'Liberation Serif', 'DejaVu Serif', serif" font-size="38.5" fill="#000">σ</text><g font-family="'Liberation Sans', Arial, Helvetica, sans-serif" font-weight="bold" font-size="22.65" fill="#000"><text x="727.2" y="1260.7">24.301</text><text x="728.4" y="1294.3">2.028</text><text x="1095.3" y="1260.5">DL</text><text x="1093.7" y="1294.4">ALS</text></g><text x="1094.3" y="1531.7" font-family="'Liberation Sans', Arial, Helvetica, sans-serif" font-size="25.6" fill="#00008b">CI=95%</text></g>
<g><rect x="1273.45" y="1219.45" width="523.8" height="336.2" fill="#99dae7"/><g stroke="#ffffff" stroke-width="1.3"><line x1="1296.55" x2="1296.55" y1="1219.45" y2="1555.65" stroke-opacity="0.03"/><line x1="1344.33" x2="1344.33" y1="1219.45" y2="1555.65" stroke-opacity="0.6"/><line x1="1392.1" x2="1392.1" y1="1219.45" y2="1555.65" stroke-opacity="0.03"/><line x1="1439.88" x2="1439.88" y1="1219.45" y2="1555.65" stroke-opacity="0.6"/><line x1="1487.65" x2="1487.65" y1="1219.45" y2="1555.65" stroke-opacity="0.03"/><line x1="1535.42" x2="1535.42" y1="1219.45" y2="1555.65" stroke-opacity="0.6"/><line x1="1583.2" x2="1583.2" y1="1219.45" y2="1555.65" stroke-opacity="0.38"/><line x1="1630.97" x2="1630.97" y1="1219.45" y2="1555.65" stroke-opacity="0.6"/><line x1="1678.75" x2="1678.75" y1="1219.45" y2="1555.65" stroke-opacity="0.03"/><line x1="1726.52" x2="1726.52" y1="1219.45" y2="1555.65" stroke-opacity="0.6"/><line x1="1774.3" x2="1774.3" y1="1219.45" y2="1555.65" stroke-opacity="0.03"/></g><g stroke="#ffffff" stroke-width="1.5"><line x1="1273.45" x2="1797.25" y1="1540.8" y2="1540.8" stroke-opacity="0.02"/><line x1="1273.45" x2="1797.25" y1="1502.44" y2="1502.44" stroke-opacity="0.64"/><line x1="1273.45" x2="1797.25" y1="1464.08" y2="1464.08" stroke-opacity="0.02"/><line x1="1273.45" x2="1797.25" y1="1425.71" y2="1425.71" stroke-opacity="0.64"/><line x1="1273.45" x2="1797.25" y1="1387.35" y2="1387.35" stroke-opacity="0.02"/><line x1="1273.45" x2="1797.25" y1="1348.99" y2="1348.99" stroke-opacity="0.64"/><line x1="1273.45" x2="1797.25" y1="1310.62" y2="1310.62" stroke-opacity="0.02"/><line x1="1273.45" x2="1797.25" y1="1272.26" y2="1272.26" stroke-opacity="0.38"/><line x1="1273.45" x2="1797.25" y1="1233.9" y2="1233.9" stroke-opacity="0.2"/></g><path id="dp32" d="M1390.89,1540.8 L1390.89,1540.75 1392.28,1540.73 1393.68,1540.71 1395.07,1540.68 1396.47,1540.64 1397.86,1540.59 1399.26,1540.53 1400.65,1540.44 1402.05,1540.33 1403.44,1540.2 1404.84,1540.02 1406.23,1539.81 1407.63,1539.53 1409.02,1539.2 1410.42,1538.78 1411.82,1538.27 1413.21,1537.64 1414.61,1536.88 1416,1535.96 1417.4,1534.86 1418.79,1533.55 1420.19,1531.99 1421.58,1530.15 1422.98,1528 1424.37,1525.49 1425.77,1522.58 1427.16,1519.23 1428.56,1515.4 1429.95,1511.05 1431.35,1506.13 1432.74,1500.6 1434.14,1494.44 1435.53,1487.62 1436.93,1480.11 1438.32,1471.89 1439.72,1462.98 1441.11,1453.36 1442.51,1443.07 1443.91,1432.14 1445.3,1420.62 1446.7,1408.56 1448.09,1396.05 1449.49,1383.18 1450.88,1370.06 1452.28,1356.81 1453.67,1343.57 1455.07,1330.47 1456.46,1317.67 1457.86,1305.33 1459.25,1293.59 1460.65,1282.62 1462.04,1272.57 1463.44,1263.57 1464.83,1255.77 1466.23,1249.27 1467.62,1244.17 1469.02,1240.56 1470.41,1238.48 1471.81,1237.97 1473.2,1239.04 1474.6,1241.68 1476,1245.83 1477.39,1251.44 1478.79,1258.42 1480.18,1266.67 1481.58,1276.06 1482.97,1286.46 1484.37,1297.72 1485.76,1309.69 1487.16,1322.22 1488.55,1335.14 1489.95,1348.31 1491.34,1361.57 1492.74,1374.79 1494.13,1387.83 1495.53,1400.58 1496.92,1412.94 1498.32,1424.81 1499.71,1436.13 1501.11,1446.84 1502.5,1456.89 1503.9,1466.26 1505.29,1474.92 1506.69,1482.88 1508.09,1490.15 1509.48,1496.73 1510.88,1502.66 1512.27,1507.96 1513.67,1512.67 1515.06,1516.83 1516.46,1520.48 1517.85,1523.67 1519.25,1526.43 1520.64,1528.81 1522.04,1530.85 1523.43,1532.58 1524.83,1534.05 1526.22,1535.28 1527.62,1536.31 1529.01,1537.17 1530.41,1537.88 1531.8,1538.46 1533.2,1538.94 1534.59,1539.33 1535.99,1539.64 1537.38,1539.89 1538.78,1540.09 1540.18,1540.25 1541.57,1540.38 1542.97,1540.47 1544.36,1540.55 1545.76,1540.61 1547.15,1540.66 1548.55,1540.69 1549.94,1540.72 1551.34,1540.74 1552.73,1540.76 1554.13,1540.77 1555.52,1540.78 1556.92,1540.78 1558.31,1540.79 L1558.31,1540.8 Z" fill="#5f87e0" fill-opacity="0.6" stroke="none"/><g fill="#5f87e0" stroke="#112268" stroke-width="1.3"><rect x="1388" y="1540.75" width="5.77" height="0.05"/><rect x="1393.77" y="1540.64" width="5.77" height="0.16"/><rect x="1399.55" y="1540.3" width="5.77" height="0.5"/><rect x="1405.32" y="1539.41" width="5.77" height="1.39"/><rect x="1411.09" y="1537.24" width="5.77" height="3.56"/><rect x="1416.87" y="1532.46" width="5.77" height="8.34"/><rect x="1422.64" y="1523" width="5.77" height="17.8"/><rect x="1428.41" y="1506.65" width="5.77" height="34.15"/><rect x="1434.19" y="1479.27" width="5.77" height="61.53"/><rect x="1439.96" y="1440.54" width="5.77" height="100.26"/><rect x="1445.73" y="1391.64" width="5.77" height="149.16"/><rect x="1451.51" y="1335.29" width="5.77" height="205.51"/><rect x="1457.28" y="1286.91" width="5.77" height="253.89"/><rect x="1463.05" y="1251.72" width="5.77" height="289.08"/><rect x="1468.83" y="1235.91" width="5.77" height="304.89"/><rect x="1474.6" y="1251.88" width="5.77" height="288.92"/><rect x="1480.37" y="1290.58" width="5.77" height="250.22"/><rect x="1486.15" y="1341.11" width="5.77" height="199.69"/><rect x="1491.92" y="1394.48" width="5.77" height="146.32"/><rect x="1497.69" y="1444.11" width="5.77" height="96.69"/><rect x="1503.47" y="1481.06" width="5.77" height="59.74"/><rect x="1509.24" y="1507.36" width="5.77" height="33.44"/><rect x="1515.01" y="1523.85" width="5.77" height="16.95"/><rect x="1520.79" y="1532.81" width="5.77" height="7.99"/><rect x="1526.56" y="1537.38" width="5.77" height="3.42"/><rect x="1532.33" y="1539.48" width="5.77" height="1.32"/><rect x="1538.11" y="1540.33" width="5.77" height="0.47"/><rect x="1543.88" y="1540.65" width="5.77" height="0.15"/><rect x="1549.65" y="1540.75" width="5.77" height="0.05"/><rect x="1555.43" y="1540.79" width="5.77" height="0.01"/></g><path d="M1406.23,1539.81 1407.63,1539.53 1409.02,1539.2 1410.42,1538.78 1411.82,1538.27 1413.21,1537.64 1414.61,1536.88 1416,1535.96 1417.4,1534.86 1418.79,1533.55 1420.19,1531.99 1421.58,1530.15 1422.98,1528 1424.37,1525.49 1425.77,1522.58 1427.16,1519.23 1428.56,1515.4 1429.95,1511.05 1431.35,1506.13 1432.74,1500.6 1434.14,1494.44 1435.53,1487.62 1436.93,1480.11 1438.32,1471.89 1439.72,1462.98 1441.11,1453.36 1442.51,1443.07 1443.91,1432.14 1445.3,1420.62 1446.7,1408.56 1448.09,1396.05 1449.49,1383.18 1450.88,1370.06 1452.28,1356.81 1453.67,1343.57 1455.07,1330.47 1456.46,1317.67 1457.86,1305.33 1459.25,1293.59 1460.65,1282.62 1462.04,1272.57 1463.44,1263.57 1464.83,1255.77 1466.23,1249.27 1467.62,1244.17 1469.02,1240.56 1470.41,1238.48 1471.81,1237.97 1473.2,1239.04 1474.6,1241.68 1476,1245.83 1477.39,1251.44 1478.79,1258.42 1480.18,1266.67 1481.58,1276.06 1482.97,1286.46 1484.37,1297.72 1485.76,1309.69 1487.16,1322.22 1488.55,1335.14 1489.95,1348.31 1491.34,1361.57 1492.74,1374.79 1494.13,1387.83 1495.53,1400.58 1496.92,1412.94 1498.32,1424.81 1499.71,1436.13 1501.11,1446.84 1502.5,1456.89 1503.9,1466.26 1505.29,1474.92 1506.69,1482.88 1508.09,1490.15 1509.48,1496.73 1510.88,1502.66 1512.27,1507.96 1513.67,1512.67 1515.06,1516.83 1516.46,1520.48 1517.85,1523.67 1519.25,1526.43 1520.64,1528.81 1522.04,1530.85 1523.43,1532.58 1524.83,1534.05 1526.22,1535.28 1527.62,1536.31 1529.01,1537.17 1530.41,1537.88 1531.8,1538.46 1533.2,1538.94 1534.59,1539.33 1535.99,1539.64 1537.38,1539.89" fill="none" stroke="#0a0f16" stroke-width="1.6" stroke-linejoin="round"/><g stroke="#fff" stroke-width="1.65" clip-path="url(#cp32)"><line x1="1388" x2="1561.2" y1="1502.44" y2="1502.44" stroke-opacity="0.14"/><line x1="1388" x2="1561.2" y1="1425.71" y2="1425.71" stroke-opacity="0.14"/><line x1="1388" x2="1561.2" y1="1348.99" y2="1348.99" stroke-opacity="0.14"/><line x1="1388" x2="1561.2" y1="1272.26" y2="1272.26" stroke-opacity="0.08"/><line x1="1388" x2="1561.2" y1="1233.9" y2="1233.9" stroke-opacity="0.04"/></g><clipPath id="cp32"><use href="#dp32"/></clipPath><line x1="1388" x2="1561.2" y1="1540.8" y2="1540.8" stroke="#3f5560" stroke-width="1.2"/><line x1="1433.82" x2="1433.82" y1="1219.45" y2="1555.65" stroke="#ff0000" stroke-width="2.6"/><line x1="1509.3" x2="1509.3" y1="1219.45" y2="1555.65" stroke="#ff0000" stroke-width="2.6"/><line x1="1471.56" x2="1471.56" y1="1219.45" y2="1555.65" stroke="#0000ff" stroke-width="2.9"/><rect x="1273.45" y="1219.45" width="523.8" height="336.2" fill="none" stroke="#4455c3" stroke-width="1.9"/><g stroke="#8f8f8f" stroke-width="0.85"><line x1="1269.5" x2="1272.5" y1="1540.8" y2="1540.8"/><line x1="1269.5" x2="1272.5" y1="1464.08" y2="1464.08"/><line x1="1269.5" x2="1272.5" y1="1387.35" y2="1387.35"/><line x1="1269.5" x2="1272.5" y1="1310.62" y2="1310.62"/><line x1="1269.5" x2="1272.5" y1="1233.9" y2="1233.9"/><line x1="1296.55" x2="1296.55" y1="1556.6" y2="1559.6"/><line x1="1392.1" x2="1392.1" y1="1556.6" y2="1559.6"/><line x1="1487.65" x2="1487.65" y1="1556.6" y2="1559.6"/><line x1="1583.2" x2="1583.2" y1="1556.6" y2="1559.6"/><line x1="1678.75" x2="1678.75" y1="1556.6" y2="1559.6"/><line x1="1774.3" x2="1774.3" y1="1556.6" y2="1559.6"/></g><g font-family="'Liberation Sans', Arial, Helvetica, sans-serif" font-weight="bold" font-size="23.1" fill="#000"><text x="1267.9" y="1549.7" text-anchor="end">0.0</text><text x="1267.9" y="1472.98" text-anchor="end">0.1</text><text x="1267.9" y="1396.25" text-anchor="end">0.2</text><text x="1267.9" y="1319.53" text-anchor="end">0.3</text><text x="1267.9" y="1242.8" text-anchor="end">0.4</text><text x="1296.55" y="1578.7" text-anchor="middle">15</text><text x="1392.1" y="1578.7" text-anchor="middle">20</text><text x="1487.65" y="1578.7" text-anchor="middle">25</text><text x="1583.2" y="1578.7" text-anchor="middle">30</text><text x="1678.75" y="1578.7" text-anchor="middle">35</text><text x="1774.3" y="1578.7" text-anchor="middle">40</text></g><text x="1535.35" y="1602.1" text-anchor="middle" font-family="'Liberation Sans', Arial, Helvetica, sans-serif" font-size="22" fill="#111">RMSE%</text><text transform="translate(1228.8 1387.55) rotate(-90)" text-anchor="middle" font-family="'Liberation Sans', Arial, Helvetica, sans-serif" font-size="22" fill="#111">density</text><text transform="translate(1292.7 1257.2) scale(1.27 1)" font-family="'Liberation Serif', 'DejaVu Serif', serif" font-size="33.5" fill="#000">μ</text><text transform="translate(1294.1 1295.3) scale(1.1 1)" font-family="'Liberation Serif', 'DejaVu Serif', serif" font-size="38.5" fill="#000">σ</text><g font-family="'Liberation Sans', Arial, Helvetica, sans-serif" font-weight="bold" font-size="22.65" fill="#000"><text x="1325.6" y="1260.7">24.158</text><text x="1326.8" y="1294.3">1.975</text><text x="1693.7" y="1260.3">DL</text><text x="1693.7" y="1291.1">Landsat</text><text x="1692.1" y="1323.8">ALS</text></g><text x="1692.7" y="1531.7" font-family="'Liberation Sans', Arial, Helvetica, sans-serif" font-size="25.6" fill="#00008b">CI=95%</text></g>
</g>
</svg>
</body>
</html>
